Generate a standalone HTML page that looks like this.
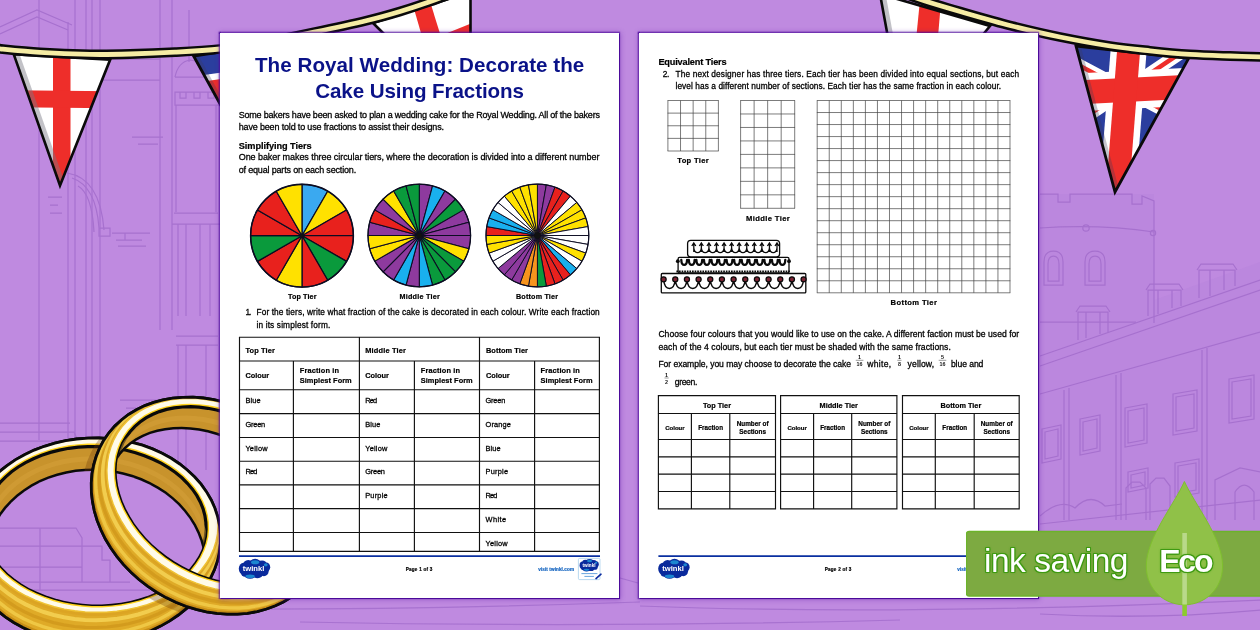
<!DOCTYPE html>
<html lang="en"><head><meta charset="utf-8"><title>The Royal Wedding: Decorate the Cake Using Fractions</title>
<style>
html,body{margin:0;padding:0;background:#bf8ae0;}
body{width:1260px;height:630px;overflow:hidden;font-family:"Liberation Sans",sans-serif;}
#stage{position:relative;width:1260px;height:630px;overflow:hidden;background:#bf8ae0;}
#stage>svg.art{position:absolute;left:0;top:0;}
.page{position:absolute;background:#fff;box-shadow:0 0 1.2px 1.3px #4b0a9a,0 0 5px 1.5px rgba(100,30,170,.45);}
.page>svg{position:absolute;left:0;top:0;}
.t{position:absolute;white-space:pre;line-height:1;color:#000;-webkit-text-stroke:0.28px #000;}
.b{font-weight:700;-webkit-text-stroke-width:0.2px;}
#eco{position:absolute;left:966px;top:470px;width:294px;height:160px;}
#eco svg{position:absolute;left:0;top:0;}
#eco .t{color:#fff;-webkit-text-stroke:0;text-shadow:1px 0 0 #3f9a12,-1px 0 0 #3f9a12,0 1px 0 #3f9a12,0 -1px 0 #3f9a12,1px 1px 0 #3f9a12,-1px -1px 0 #3f9a12,1px -1px 0 #3f9a12,-1px 1px 0 #3f9a12,0 0 3px #2f8f00;}
</style></head><body>
<div id="stage">
<svg class="art" width="1260" height="630" viewBox="0 0 1260 630"><path d="M1039 194H1154V300L1260 262V598H1039Z" fill="#b781dc" opacity=".4"/><g fill="none" stroke="#a36dcc" stroke-width="1.25" opacity=".85"><path d="M39 0V440M68 22V438M75 0V438M86 0V438M92 0V438M100 0V438M160 0V330M172 0V330M189 10V62"/><path d="M0 27L37 10L72 25M0 34L37 17L68 30"/><path d="M102 59H160M102 80H160"/><path d="M175 77Q178 62 190 60Q206 62 215 77M175 77H218M175 92H220V105H175ZM180 92V98H186V92M194 92V98H200V92M208 92V98H214V92M176 105V212M216 105V212"/><path d="M132 137H163M138 144H158M48 197H62M50 205H58M50 213H62M112 233H150M116 240H142M125 233V240M118 246H146"/><path d="M67 173Q100 178 104 230M72 178Q96 186 99 228M78 186Q92 194 94 232M99 228H110V236H99Z"/><path d="M174 213H218M172 224H220M178 224V316M186 224V316M200 224V316M210 224V316M176 336H218M176 345H218M178 345V470M186 345V470M206 345V470"/><path d="M0 423H70M0 432H74L78 441H0M120 400H160M126 408H150"/><path d="M0 528H76L82 538V546H0M0 567H82M0 582H82V546M82 546H102V560H110V582M82 582H130M0 590H150M40 528V590"/><path d="M620 578L638 583M0 606Q300 614 640 602M640 606Q900 616 1260 600M1040 614Q1150 620 1260 610M300 622Q600 628 900 620"/><path d="M1040 194H1058V202H1070V194H1132V204H1142V196L1154 201V323"/><path d="M1040 228Q1100 224 1154 232M1040 322H1136"/><circle cx="1086" cy="228" r="3.2"/><circle cx="1153" cy="233" r="2.6"/><path d="M1044 285V262Q1044 251 1053.5 251Q1063 251 1063 262V285ZM1048 281V264Q1048 256 1053.5 256Q1059 256 1059 264V281ZM1085 285V262Q1085 251 1095 251Q1105 251 1105 262V285ZM1089 281V264Q1089 256 1095 256Q1101 256 1101 264V281Z"/><path d="M1040 356L1260 280M1040 366L1260 290M1040 394L1260 332"/><path d="M1078 340V312H1108V332M1076 312L1080 306H1106L1110 312M1086 312V338M1100 312V334M1148 316V290H1181V306M1146 290L1150 284H1179L1183 290M1158 290V314M1172 290V308M1199 298V270H1235V286M1197 270L1201 264H1233L1237 270M1210 270V296M1224 270V290"/><path d="M1064 390V520M1069 388V520M1116 375V520M1121 373V520M1202 350V520M1207 348V520"/><path d="M1042 429L1061 425V459L1042 463ZM1045 432L1058 429V456L1045 459Z"/><path d="M1080 419L1100 415V451L1080 455ZM1083 422L1097 419V448L1083 451Z"/><path d="M1125 408L1147 404V443L1125 447ZM1128 411L1144 408V440L1128 443Z"/><path d="M1173 394L1197 390V431L1173 435ZM1176 397L1194 394V428L1176 431Z"/><path d="M1229 379L1254 375V419L1229 423ZM1232 382L1251 379V416L1232 419Z"/><path d="M1128 472L1148 468V488L1128 492ZM1131 475L1145 472V485L1131 488Z"/><path d="M1175 463L1199 459V493L1175 497ZM1178 466L1196 463V490L1178 493Z"/><path d="M1040 516Q1060 498 1075 508Q1090 492 1105 506L1122 504M1126 520V488L1132 482H1140L1146 488V520M1150 520V484L1156 478H1164L1170 486V520M1215 520V480L1240 468L1260 472M1235 520V492Q1244 478 1254 492V520"/><path d="M1040 524L1260 500"/></g><clipPath id="cUJ1"><polygon points="193.6,56 300,40 262,180"/></clipPath><polygon points="193.6,56 300,40 262,180" fill="#2b3e9e"/><g clip-path="url(#cUJ1)"><g transform="translate(252 85.5) scale(0.9)"><g transform="rotate(-8)"><path d="M-90 0H90" stroke="#fff" stroke-width="38"/></g><path d="M0 -60V140" stroke="#fff" stroke-width="36" transform="rotate(-2)"/><path d="M-90 0H90" stroke="#ee2e2a" stroke-width="24" transform="rotate(-8)"/><path d="M0 -60V140" stroke="#ee2e2a" stroke-width="23" transform="rotate(-2)"/></g><path d="M193.6 56L262 180" stroke="rgba(60,60,90,.30)" stroke-width="9"/></g><polygon points="193.6,56 300,40 262,180" fill="none" stroke="#0a0a0a" stroke-width="2.8" stroke-linejoin="miter"/><clipPath id="cE1"><polygon points="13.7,54.2 110.2,59.6 60,185.5"/></clipPath><polygon points="13.7,54.2 110.2,59.6 60,185.5" fill="#fff"/><g clip-path="url(#cE1)"><polygon points="53,40 70.5,40 70.5,190 53,190" fill="#ee2e2a"/><polygon points="0,90 130,91.5 130,108.5 0,107" fill="#ee2e2a"/><path d="M13.7 54.2L60 185.5" stroke="rgba(120,120,130,.45)" stroke-width="11"/></g><polygon points="13.7,54.2 110.2,59.6 60,185.5" fill="none" stroke="#0a0a0a" stroke-width="2.6" stroke-linejoin="miter"/><clipPath id="cE2"><polygon points="373,23 470.5,-8 470.5,120"/></clipPath><polygon points="373,23 470.5,-8 470.5,120" fill="#fff"/><g clip-path="url(#cE2)"><polygon points="410,-5 428,-5 442,40 423,40" fill="#ee2e2a"/><polygon points="440,36 480,20 480,34 448,40" fill="#ee2e2a"/></g><polygon points="373,23 470.5,-8 470.5,120" fill="none" stroke="#0a0a0a" stroke-width="2.6" stroke-linejoin="miter"/><path d="M-6 48.2C1.7 48.9 24.0 51.4 40.0 52.4C56.0 53.4 75.0 54.1 90.0 54.4C105.0 54.7 115.8 54.4 130.0 54.0C144.2 53.6 160.0 53.0 175.0 52.2C190.0 51.4 205.5 50.6 220.0 49.0C234.5 47.4 246.3 45.3 262.0 42.5C277.7 39.7 296.5 35.9 314.0 32.2C331.5 28.5 352.7 23.9 367.0 20.5C381.3 17.1 389.7 14.6 400.0 11.5C410.3 8.4 421.0 4.8 429.0 2.0C437.0 -0.8 444.8 -3.8 448.0 -5.0" fill="none" stroke="#0a0a0a" stroke-width="9.8" stroke-linecap="butt"/><path d="M-6 48.2C1.7 48.9 24.0 51.4 40.0 52.4C56.0 53.4 75.0 54.1 90.0 54.4C105.0 54.7 115.8 54.4 130.0 54.0C144.2 53.6 160.0 53.0 175.0 52.2C190.0 51.4 205.5 50.6 220.0 49.0C234.5 47.4 246.3 45.3 262.0 42.5C277.7 39.7 296.5 35.9 314.0 32.2C331.5 28.5 352.7 23.9 367.0 20.5C381.3 17.1 389.7 14.6 400.0 11.5C410.3 8.4 421.0 4.8 429.0 2.0C437.0 -0.8 444.8 -3.8 448.0 -5.0" fill="none" stroke="#f5eca4" stroke-width="4.8" stroke-linecap="butt"/><clipPath id="cE3"><polygon points="880,-6 990,26 905,130"/></clipPath><polygon points="880,-6 990,26 905,130" fill="#fff"/><g clip-path="url(#cE3)"><polygon points="921,-10 942,-10 936,60 914,60" fill="#ee2e2a"/><polygon points="870,60 990,60 990,80 870,80" fill="#ee2e2a"/><path d="M880 -6L905 130" stroke="rgba(120,120,130,.45)" stroke-width="11"/></g><polygon points="880,-6 990,26 905,130" fill="none" stroke="#0a0a0a" stroke-width="2.6" stroke-linejoin="miter"/><clipPath id="cUJ2"><polygon points="1076,46 1188.6,58.4 1115,192"/></clipPath><polygon points="1076,46 1188.6,58.4 1115,192" fill="#2b3e9e"/><g clip-path="url(#cUJ2)"><g transform="translate(1125.5 90) scale(1.0)"><g transform="rotate(-3)"><path d="M-80 -48L80 48M-80 48L80 -48" stroke="#fff" stroke-width="13"/><path d="M-80 -48L80 48M-80 48L80 -48" stroke="#ee2e2a" stroke-width="4.5"/><path d="M-90 0H90" stroke="#fff" stroke-width="38"/></g><path d="M0 -60V140" stroke="#fff" stroke-width="36" transform="rotate(4.5)"/><path d="M-90 0H90" stroke="#ee2e2a" stroke-width="24" transform="rotate(-3)"/><path d="M0 -60V140" stroke="#ee2e2a" stroke-width="23" transform="rotate(4.5)"/></g><path d="M1076 46L1115 192" stroke="rgba(60,60,90,.30)" stroke-width="9"/></g><polygon points="1076,46 1188.6,58.4 1115,192" fill="none" stroke="#0a0a0a" stroke-width="2.8" stroke-linejoin="miter"/><path d="M900 -8C904.2 -6.5 915.0 -2.2 925.0 1.0C935.0 4.2 945.5 7.3 960.0 11.5C974.5 15.7 995.3 21.8 1012.0 26.0C1028.7 30.2 1043.7 33.7 1060.0 37.0C1076.3 40.3 1095.0 43.7 1110.0 46.0C1125.0 48.3 1136.7 49.4 1150.0 50.8C1163.3 52.2 1176.7 53.5 1190.0 54.4C1203.3 55.3 1217.3 55.6 1230.0 56.0C1242.7 56.4 1260.0 56.8 1266.0 57.0" fill="none" stroke="#0a0a0a" stroke-width="9.8" stroke-linecap="butt"/><path d="M900 -8C904.2 -6.5 915.0 -2.2 925.0 1.0C935.0 4.2 945.5 7.3 960.0 11.5C974.5 15.7 995.3 21.8 1012.0 26.0C1028.7 30.2 1043.7 33.7 1060.0 37.0C1076.3 40.3 1095.0 43.7 1110.0 46.0C1125.0 48.3 1136.7 49.4 1150.0 50.8C1163.3 52.2 1176.7 53.5 1190.0 54.4C1203.3 55.3 1217.3 55.6 1230.0 56.0C1242.7 56.4 1260.0 56.8 1266.0 57.0" fill="none" stroke="#f5eca4" stroke-width="4.8" stroke-linecap="butt"/><defs><clipPath id="rAri"><path d="M206.1 529.4L205.5 536.2L204.0 543.0L201.6 549.7L198.5 556.1L194.5 562.3L189.9 568.3L184.4 573.9L178.3 579.2L171.6 584.0L164.3 588.4L156.4 592.3L148.1 595.7L139.4 598.6L130.4 600.9L121.0 602.7L111.5 603.8L101.9 604.4L92.1 604.4L82.5 603.7L72.9 602.5L63.5 600.7L54.3 598.3L45.4 595.3L36.9 591.8L28.8 587.9L21.3 583.4L14.3 578.5L7.9 573.2L2.2 567.5L-2.8 561.6L-7.1 555.3L-10.6 548.8L-13.3 542.2L-15.1 535.4L-16.1 528.5L-16.3 521.6L-15.7 514.8L-14.2 508.0L-11.8 501.3L-8.7 494.9L-4.7 488.7L-0.1 482.7L5.4 477.1L11.5 471.8L18.2 467.0L25.5 462.6L33.4 458.7L41.7 455.3L50.4 452.4L59.4 450.1L68.8 448.3L78.3 447.2L87.9 446.6L97.7 446.6L107.3 447.3L116.9 448.5L126.3 450.3L135.5 452.7L144.4 455.7L152.9 459.2L161.0 463.1L168.5 467.6L175.5 472.5L181.9 477.8L187.6 483.5L192.6 489.4L196.9 495.7L200.4 502.2L203.1 508.8L204.9 515.6L205.9 522.5Z"/></clipPath><clipPath id="rAsil"><path d="M220.5 534.6L220.4 543.5L219.3 552.4L217.3 561.3L214.3 569.9L210.4 578.4L205.6 586.5L200.0 594.3L193.5 601.7L186.3 608.6L178.3 615.0L169.7 620.9L160.5 626.1L150.8 630.7L140.6 634.5L130.1 637.7L119.3 640.1L108.3 641.8L97.1 642.7L86.0 642.8L74.9 642.1L63.9 640.7L53.1 638.5L42.6 635.6L32.5 631.9L22.9 627.5L13.8 622.5L5.3 616.8L-2.5 610.6L-9.7 603.8L-16.0 596.6L-21.5 588.9L-26.2 580.8L-29.9 572.5L-32.7 563.9L-34.6 555.1L-35.5 546.2L-35.4 537.3L-34.3 528.4L-32.3 519.5L-29.3 510.9L-25.4 502.4L-20.6 494.3L-15.0 486.5L-8.5 479.1L-1.3 472.2L6.7 465.8L15.3 459.9L24.5 454.7L34.2 450.1L44.4 446.3L54.9 443.1L65.7 440.7L76.7 439.0L87.9 438.1L99.0 438.0L110.1 438.7L121.1 440.1L131.9 442.3L142.4 445.2L152.5 448.9L162.1 453.3L171.2 458.3L179.7 464.0L187.5 470.2L194.7 477.0L201.0 484.2L206.5 491.9L211.2 500.0L214.9 508.3L217.7 516.9L219.6 525.7Z"/></clipPath><mask id="rAm" maskUnits="userSpaceOnUse" x="-200" y="300" width="700" height="500"><rect x="-200" y="300" width="700" height="500" fill="#fff"/><g clip-path="url(#rAri)"><path d="M204.1 572.2L202.9 580.0L201.0 587.8L198.2 595.3L194.7 602.6L190.4 609.6L185.4 616.2L179.7 622.4L173.4 628.2L166.5 633.4L159.1 638.1L151.1 642.3L142.8 645.8L134.1 648.7L125.1 650.9L115.8 652.5L106.5 653.4L97.0 653.5L87.5 653.0L78.1 651.8L68.9 649.9L59.8 647.4L51.0 644.2L42.6 640.4L34.5 635.9L26.9 631.0L19.9 625.5L13.4 619.5L7.6 613.1L2.4 606.3L-2.1 599.1L-5.8 591.7L-8.7 584.1L-10.9 576.3L-12.2 568.4L-12.8 560.4L-12.5 552.4L-11.3 544.6L-9.4 536.8L-6.6 529.3L-3.1 522.0L1.2 515.0L6.2 508.4L11.9 502.2L18.2 496.4L25.1 491.2L32.5 486.5L40.5 482.3L48.8 478.8L57.5 475.9L66.5 473.7L75.8 472.1L85.1 471.2L94.6 471.1L104.1 471.6L113.5 472.8L122.7 474.7L131.8 477.2L140.6 480.4L149.0 484.2L157.1 488.7L164.7 493.6L171.7 499.1L178.2 505.1L184.0 511.5L189.2 518.3L193.7 525.5L197.4 532.9L200.3 540.5L202.5 548.3L203.8 556.2L204.4 564.2Z" fill="#000"/></g></mask></defs><g mask="url(#rAm)"><path d="M220.5 534.6L220.4 543.5L219.3 552.4L217.3 561.3L214.3 569.9L210.4 578.4L205.6 586.5L200.0 594.3L193.5 601.7L186.3 608.6L178.3 615.0L169.7 620.9L160.5 626.1L150.8 630.7L140.6 634.5L130.1 637.7L119.3 640.1L108.3 641.8L97.1 642.7L86.0 642.8L74.9 642.1L63.9 640.7L53.1 638.5L42.6 635.6L32.5 631.9L22.9 627.5L13.8 622.5L5.3 616.8L-2.5 610.6L-9.7 603.8L-16.0 596.6L-21.5 588.9L-26.2 580.8L-29.9 572.5L-32.7 563.9L-34.6 555.1L-35.5 546.2L-35.4 537.3L-34.3 528.4L-32.3 519.5L-29.3 510.9L-25.4 502.4L-20.6 494.3L-15.0 486.5L-8.5 479.1L-1.3 472.2L6.7 465.8L15.3 459.9L24.5 454.7L34.2 450.1L44.4 446.3L54.9 443.1L65.7 440.7L76.7 439.0L87.9 438.1L99.0 438.0L110.1 438.7L121.1 440.1L131.9 442.3L142.4 445.2L152.5 448.9L162.1 453.3L171.2 458.3L179.7 464.0L187.5 470.2L194.7 477.0L201.0 484.2L206.5 491.9L211.2 500.0L214.9 508.3L217.7 516.9L219.6 525.7Z" fill="#dfaa27" stroke="#0a0a0a" stroke-width="2.8"/><g clip-path="url(#rAsil)"><path d="M220.3 534.0L220.2 542.9L219.1 551.7L217.1 560.4L214.1 569.0L210.1 577.3L205.3 585.4L199.7 593.1L193.2 600.3L185.9 607.2L178.0 613.5L169.4 619.2L160.2 624.4L150.5 628.8L140.4 632.7L129.9 635.8L119.1 638.1L108.1 639.7L97.0 640.6L85.9 640.7L74.8 640.0L63.8 638.5L53.1 636.3L42.7 633.3L32.7 629.7L23.1 625.3L14.0 620.3L5.6 614.7L-2.2 608.5L-9.3 601.8L-15.6 594.6L-21.0 586.9L-25.6 579.0L-29.3 570.7L-32.1 562.1L-33.9 553.5L-34.7 544.7L-34.6 535.8L-33.5 527.0L-31.5 518.3L-28.5 509.7L-24.6 501.4L-19.8 493.3L-14.1 485.6L-7.6 478.3L-0.4 471.5L7.6 465.2L16.2 459.5L25.4 454.3L35.1 449.8L45.2 446.0L55.7 442.9L66.5 440.6L77.5 439.0L88.6 438.1L99.7 438.0L110.8 438.7L121.7 440.2L132.4 442.4L142.9 445.4L152.9 449.0L162.5 453.4L171.5 458.4L180.0 464.0L187.8 470.2L194.8 476.9L201.1 484.1L206.6 491.7L211.2 499.7L214.9 508.0L217.6 516.5L219.5 525.2Z" fill="none" stroke="#c58b16" stroke-width="3.0" opacity="0.9"/><path d="M219.8 532.4L219.6 540.9L218.4 549.4L216.3 557.9L213.2 566.1L209.2 574.1L204.4 581.9L198.7 589.3L192.2 596.3L184.9 602.8L177.0 608.8L168.4 614.3L159.3 619.2L149.6 623.4L139.6 627.0L129.1 629.9L118.5 632.1L107.6 633.5L96.6 634.2L85.6 634.2L74.6 633.4L63.8 631.9L53.2 629.6L43.0 626.6L33.1 623.0L23.7 618.7L14.8 613.7L6.5 608.2L-1.1 602.1L-8.1 595.5L-14.2 588.5L-19.5 581.1L-23.9 573.3L-27.5 565.2L-30.1 557.0L-31.8 548.5L-32.6 540.0L-32.4 531.4L-31.2 522.9L-29.0 514.5L-26.0 506.2L-22.0 498.2L-17.1 490.5L-11.5 483.1L-5.0 476.1L2.3 469.5L10.2 463.5L18.8 458.0L28.0 453.2L37.6 448.9L47.7 445.3L58.1 442.5L68.8 440.3L79.7 438.8L90.7 438.1L101.7 438.2L112.6 439.0L123.4 440.5L134.0 442.7L144.3 445.7L154.1 449.4L163.6 453.7L172.5 458.6L180.8 464.1L188.4 470.2L195.3 476.8L201.4 483.8L206.7 491.3L211.2 499.1L214.7 507.1L217.4 515.4L219.1 523.8Z" fill="none" stroke="#efc846" stroke-width="3.4" opacity="0.95"/><path d="M219.3 530.6L219.0 538.8L217.7 547.0L215.5 555.1L212.3 563.1L208.3 570.8L203.4 578.2L197.7 585.3L191.2 592.0L184.0 598.2L176.0 603.9L167.5 609.1L158.4 613.7L148.8 617.7L138.8 621.0L128.5 623.7L117.9 625.7L107.1 627.0L96.2 627.5L85.4 627.4L74.5 626.5L63.9 624.9L53.5 622.6L43.3 619.6L33.6 616.0L24.4 611.7L15.6 606.9L7.5 601.4L0.0 595.5L-6.7 589.0L-12.7 582.2L-17.9 574.9L-22.2 567.4L-25.6 559.6L-28.1 551.5L-29.7 543.4L-30.3 535.1L-30.0 526.9L-28.7 518.7L-26.5 510.6L-23.3 502.6L-19.3 494.9L-14.4 487.5L-8.7 480.4L-2.2 473.7L5.0 467.5L13.0 461.8L21.5 456.6L30.6 452.0L40.2 448.0L50.2 444.7L60.5 442.0L71.1 440.0L81.9 438.7L92.8 438.2L103.6 438.3L114.5 439.2L125.1 440.8L135.5 443.1L145.7 446.1L155.4 449.7L164.6 454.0L173.4 458.8L181.5 464.3L189.0 470.2L195.7 476.7L201.7 483.5L206.9 490.8L211.2 498.3L214.6 506.1L217.1 514.2L218.7 522.3Z" fill="none" stroke="#cf971c" stroke-width="3.2" opacity="0.8"/><path d="M218.7 528.6L218.2 536.5L216.9 544.4L214.6 552.1L211.4 559.7L207.3 567.1L202.4 574.2L196.7 580.9L190.2 587.2L182.9 593.1L175.0 598.5L166.5 603.4L157.5 607.7L148.0 611.4L138.1 614.5L127.8 617.0L117.3 618.7L106.7 619.8L95.9 620.2L85.2 619.9L74.5 619.0L64.0 617.3L53.8 615.0L43.8 612.0L34.3 608.4L25.2 604.1L16.6 599.4L8.7 594.0L1.4 588.2L-5.2 582.0L-11.0 575.3L-16.0 568.3L-20.2 561.0L-23.4 553.4L-25.8 545.7L-27.2 537.8L-27.8 529.9L-27.3 522.0L-26.0 514.1L-23.7 506.3L-20.5 498.7L-16.4 491.4L-11.5 484.3L-5.7 477.6L0.8 471.2L8.0 465.3L15.9 459.9L24.4 455.1L33.4 450.7L42.9 447.0L52.9 443.9L63.1 441.5L73.6 439.7L84.2 438.6L95.0 438.2L105.7 438.5L116.4 439.5L126.9 441.2L137.1 443.5L147.1 446.5L156.6 450.1L165.7 454.3L174.3 459.1L182.2 464.4L189.5 470.2L196.1 476.5L201.9 483.2L206.9 490.2L211.1 497.5L214.4 505.0L216.7 512.8L218.2 520.6Z" fill="none" stroke="#f2cf50" stroke-width="4.0" opacity="0.95"/><path d="M218.2 527.0L217.7 534.7L216.3 542.4L213.9 549.9L210.7 557.2L206.6 564.3L201.7 571.1L195.9 577.6L189.4 583.6L182.2 589.3L174.3 594.4L165.9 599.1L156.9 603.2L147.4 606.7L137.6 609.6L127.4 611.9L117.0 613.5L106.4 614.5L95.8 614.7L85.2 614.4L74.6 613.3L64.2 611.6L54.1 609.2L44.3 606.2L34.8 602.7L25.9 598.5L17.4 593.8L9.6 588.5L2.5 582.8L-4.0 576.7L-9.7 570.2L-14.6 563.3L-18.6 556.2L-21.8 548.8L-24.1 541.3L-25.4 533.7L-25.8 526.0L-25.3 518.3L-23.9 510.7L-21.6 503.2L-18.4 495.8L-14.2 488.7L-9.3 481.9L-3.6 475.5L3.0 469.4L10.2 463.7L18.0 458.6L26.5 453.9L35.5 449.8L45.0 446.3L54.8 443.4L65.0 441.1L75.4 439.5L85.9 438.6L96.6 438.3L107.2 438.7L117.8 439.7L128.1 441.4L138.3 443.8L148.1 446.8L157.5 450.4L166.5 454.5L174.9 459.3L182.7 464.5L189.9 470.2L196.4 476.3L202.1 482.9L206.9 489.7L211.0 496.8L214.1 504.2L216.4 511.7L217.8 519.4Z" fill="none" stroke="#dba323" stroke-width="2.5" opacity="0.8"/></g><g clip-path="url(#rAsil)"><path d="M218.0 526.4L217.5 533.9L216.0 541.5L213.7 548.8L210.4 556.1L206.3 563.0L201.3 569.7L195.6 576.1L189.1 582.0L181.9 587.6L174.0 592.6L165.6 597.2L156.6 601.2L147.2 604.6L137.3 607.4L127.2 609.6L116.8 611.2L106.3 612.1L95.7 612.3L85.2 611.9L74.7 610.8L64.3 609.1L54.2 606.7L44.5 603.7L35.1 600.1L26.2 596.0L17.8 591.3L10.1 586.1L2.9 580.4L-3.5 574.3L-9.1 567.9L-13.9 561.1L-17.9 554.1L-21.1 546.8L-23.3 539.4L-24.6 531.8L-25.0 524.2L-24.5 516.7L-23.0 509.1L-20.7 501.8L-17.4 494.5L-13.3 487.6L-8.3 480.9L-2.6 474.5L3.9 468.6L11.1 463.0L19.0 458.0L27.4 453.4L36.4 449.4L45.8 446.0L55.7 443.2L65.8 441.0L76.2 439.4L86.7 438.5L97.3 438.3L107.8 438.7L118.3 439.8L128.7 441.5L138.8 443.9L148.5 446.9L157.9 450.5L166.8 454.6L175.2 459.3L182.9 464.5L190.1 470.2L196.5 476.3L202.1 482.7L206.9 489.5L210.9 496.5L214.1 503.8L216.3 511.2L217.6 518.8Z" fill="#fffbe8" stroke="#efc233" stroke-width="1.4"/></g><path d="M206.1 529.4L205.5 536.2L204.0 543.0L201.6 549.7L198.5 556.1L194.5 562.3L189.9 568.3L184.4 573.9L178.3 579.2L171.6 584.0L164.3 588.4L156.4 592.3L148.1 595.7L139.4 598.6L130.4 600.9L121.0 602.7L111.5 603.8L101.9 604.4L92.1 604.4L82.5 603.7L72.9 602.5L63.5 600.7L54.3 598.3L45.4 595.3L36.9 591.8L28.8 587.9L21.3 583.4L14.3 578.5L7.9 573.2L2.2 567.5L-2.8 561.6L-7.1 555.3L-10.6 548.8L-13.3 542.2L-15.1 535.4L-16.1 528.5L-16.3 521.6L-15.7 514.8L-14.2 508.0L-11.8 501.3L-8.7 494.9L-4.7 488.7L-0.1 482.7L5.4 477.1L11.5 471.8L18.2 467.0L25.5 462.6L33.4 458.7L41.7 455.3L50.4 452.4L59.4 450.1L68.8 448.3L78.3 447.2L87.9 446.6L97.7 446.6L107.3 447.3L116.9 448.5L126.3 450.3L135.5 452.7L144.4 455.7L152.9 459.2L161.0 463.1L168.5 467.6L175.5 472.5L181.9 477.8L187.6 483.5L192.6 489.4L196.9 495.7L200.4 502.2L203.1 508.8L204.9 515.6L205.9 522.5Z" fill="#c8932c" stroke="#ffd21a" stroke-width="6.0"/><path d="M206.1 529.4L205.5 536.2L204.0 543.0L201.6 549.7L198.5 556.1L194.5 562.3L189.9 568.3L184.4 573.9L178.3 579.2L171.6 584.0L164.3 588.4L156.4 592.3L148.1 595.7L139.4 598.6L130.4 600.9L121.0 602.7L111.5 603.8L101.9 604.4L92.1 604.4L82.5 603.7L72.9 602.5L63.5 600.7L54.3 598.3L45.4 595.3L36.9 591.8L28.8 587.9L21.3 583.4L14.3 578.5L7.9 573.2L2.2 567.5L-2.8 561.6L-7.1 555.3L-10.6 548.8L-13.3 542.2L-15.1 535.4L-16.1 528.5L-16.3 521.6L-15.7 514.8L-14.2 508.0L-11.8 501.3L-8.7 494.9L-4.7 488.7L-0.1 482.7L5.4 477.1L11.5 471.8L18.2 467.0L25.5 462.6L33.4 458.7L41.7 455.3L50.4 452.4L59.4 450.1L68.8 448.3L78.3 447.2L87.9 446.6L97.7 446.6L107.3 447.3L116.9 448.5L126.3 450.3L135.5 452.7L144.4 455.7L152.9 459.2L161.0 463.1L168.5 467.6L175.5 472.5L181.9 477.8L187.6 483.5L192.6 489.4L196.9 495.7L200.4 502.2L203.1 508.8L204.9 515.6L205.9 522.5Z" fill="#c8932c" stroke="#0a0a0a" stroke-width="3.2"/><g clip-path="url(#rAri)"><path d="M205.1 550.8L204.3 558.2L202.5 565.4L200.0 572.5L196.7 579.4L192.6 586.0L187.8 592.3L182.2 598.2L176.0 603.7L169.2 608.8L161.8 613.3L153.9 617.4L145.6 620.8L136.9 623.7L127.9 626.0L118.6 627.6L109.2 628.6L99.6 629.0L90.0 628.7L80.5 627.8L71.0 626.2L61.8 624.1L52.8 621.3L44.1 617.9L35.8 613.9L28.0 609.4L20.7 604.4L13.9 599.0L7.8 593.1L2.4 586.9L-2.4 580.3L-6.4 573.5L-9.6 566.4L-12.1 559.2L-13.7 551.8L-14.5 544.4L-14.4 537.0L-13.6 529.6L-11.8 522.4L-9.3 515.3L-6.0 508.4L-1.9 501.8L2.9 495.5L8.5 489.6L14.7 484.1L21.5 479.0L28.9 474.5L36.8 470.4L45.1 467.0L53.8 464.1L62.8 461.8L72.1 460.2L81.5 459.2L91.1 458.8L100.7 459.1L110.2 460.0L119.7 461.6L128.9 463.7L137.9 466.5L146.6 469.9L154.9 473.9L162.7 478.4L170.0 483.4L176.8 488.8L182.9 494.7L188.3 500.9L193.1 507.5L197.1 514.3L200.3 521.4L202.8 528.6L204.4 536.0L205.2 543.4Z" fill="none" stroke="#d6a23a" stroke-width="5" opacity=".5"/><path d="M204.1 572.2L202.9 580.0L201.0 587.8L198.2 595.3L194.7 602.6L190.4 609.6L185.4 616.2L179.7 622.4L173.4 628.2L166.5 633.4L159.1 638.1L151.1 642.3L142.8 645.8L134.1 648.7L125.1 650.9L115.8 652.5L106.5 653.4L97.0 653.5L87.5 653.0L78.1 651.8L68.9 649.9L59.8 647.4L51.0 644.2L42.6 640.4L34.5 635.9L26.9 631.0L19.9 625.5L13.4 619.5L7.6 613.1L2.4 606.3L-2.1 599.1L-5.8 591.7L-8.7 584.1L-10.9 576.3L-12.2 568.4L-12.8 560.4L-12.5 552.4L-11.3 544.6L-9.4 536.8L-6.6 529.3L-3.1 522.0L1.2 515.0L6.2 508.4L11.9 502.2L18.2 496.4L25.1 491.2L32.5 486.5L40.5 482.3L48.8 478.8L57.5 475.9L66.5 473.7L75.8 472.1L85.1 471.2L94.6 471.1L104.1 471.6L113.5 472.8L122.7 474.7L131.8 477.2L140.6 480.4L149.0 484.2L157.1 488.7L164.7 493.6L171.7 499.1L178.2 505.1L184.0 511.5L189.2 518.3L193.7 525.5L197.4 532.9L200.3 540.5L202.5 548.3L203.8 556.2L204.4 564.2Z" fill="none" stroke="#0a0a0a" stroke-width="5.0"/></g><g clip-path="url(#rAsil)"><path d="M307.3 576.3L302.2 583.6L296.4 590.3L289.8 596.4L282.6 601.9L274.7 606.7L266.3 610.8L257.4 614.0L248.1 616.6L238.4 618.3L228.4 619.1L218.2 619.2L207.9 618.4L197.5 616.8L187.2 614.4L177.0 611.3L166.9 607.3L157.1 602.6L147.7 597.2L138.6 591.2L130.0 584.5L122.0 577.3L114.6 569.6L107.8 561.4L101.7 552.8L96.4 544.0L91.9 534.8L88.2 525.5L85.4 516.1L83.5 506.6L82.4 497.2L82.3 487.8L83.0 478.7L84.7 469.8L87.3 461.1L90.7 452.9L94.9 445.1L100.0 437.8L105.8 431.1L112.4 425.0L119.6 419.5L127.5 414.7L135.9 410.6L144.8 407.4L154.1 404.8L163.8 403.1L173.8 402.3L184.0 402.2L194.3 403.0L204.7 404.6L215.0 407.0L225.2 410.1L235.3 414.1L245.1 418.8L254.5 424.2L263.6 430.2L272.2 436.9L280.2 444.1L287.6 451.8L294.4 460.0L300.5 468.6L305.8 477.4L310.3 486.6L314.0 495.9L316.8 505.3L318.7 514.8L319.8 524.2L319.9 533.6L319.2 542.7L317.5 551.6L314.9 560.3L311.5 568.5ZM316.3 571.3L311.2 578.6L305.4 585.3L298.8 591.4L291.6 596.9L283.7 601.7L275.3 605.8L266.4 609.0L257.1 611.6L247.4 613.3L237.4 614.1L227.2 614.2L216.9 613.4L206.5 611.8L196.2 609.4L186.0 606.3L175.9 602.3L166.1 597.6L156.7 592.2L147.6 586.2L139.0 579.5L131.0 572.3L123.6 564.6L116.8 556.4L110.7 547.8L105.4 539.0L100.9 529.8L97.2 520.5L94.4 511.1L92.5 501.6L91.4 492.2L91.3 482.8L92.0 473.7L93.7 464.8L96.3 456.1L99.7 447.9L103.9 440.1L109.0 432.8L114.8 426.1L121.4 420.0L128.6 414.5L136.5 409.7L144.9 405.6L153.8 402.4L163.1 399.8L172.8 398.1L182.8 397.3L193.0 397.2L203.3 398.0L213.7 399.6L224.0 402.0L234.2 405.1L244.3 409.1L254.1 413.8L263.5 419.2L272.6 425.2L281.2 431.9L289.2 439.1L296.6 446.8L303.4 455.0L309.5 463.6L314.8 472.4L319.3 481.6L323.0 490.9L325.8 500.3L327.7 509.8L328.8 519.2L328.9 528.6L328.2 537.7L326.5 546.6L323.9 555.3L320.5 563.5Z" fill-rule="evenodd" fill="rgba(110,60,10,.32)"/></g><path d="M220.5 534.6L220.4 543.5L219.3 552.4L217.3 561.3L214.3 569.9L210.4 578.4L205.6 586.5L200.0 594.3L193.5 601.7L186.3 608.6L178.3 615.0L169.7 620.9L160.5 626.1L150.8 630.7L140.6 634.5L130.1 637.7L119.3 640.1L108.3 641.8L97.1 642.7L86.0 642.8L74.9 642.1L63.9 640.7L53.1 638.5L42.6 635.6L32.5 631.9L22.9 627.5L13.8 622.5L5.3 616.8L-2.5 610.6L-9.7 603.8L-16.0 596.6L-21.5 588.9L-26.2 580.8L-29.9 572.5L-32.7 563.9L-34.6 555.1L-35.5 546.2L-35.4 537.3L-34.3 528.4L-32.3 519.5L-29.3 510.9L-25.4 502.4L-20.6 494.3L-15.0 486.5L-8.5 479.1L-1.3 472.2L6.7 465.8L15.3 459.9L24.5 454.7L34.2 450.1L44.4 446.3L54.9 443.1L65.7 440.7L76.7 439.0L87.9 438.1L99.0 438.0L110.1 438.7L121.1 440.1L131.9 442.3L142.4 445.2L152.5 448.9L162.1 453.3L171.2 458.3L179.7 464.0L187.5 470.2L194.7 477.0L201.0 484.2L206.5 491.9L211.2 500.0L214.9 508.3L217.7 516.9L219.6 525.7Z" fill="none" stroke="#0a0a0a" stroke-width="2.8"/></g><defs><clipPath id="rBri"><path d="M307.0 552.1L303.0 557.7L298.3 562.8L293.0 567.4L287.1 571.5L280.7 574.9L273.7 577.8L266.4 580.0L258.7 581.5L250.6 582.4L242.3 582.7L233.8 582.2L225.1 581.1L216.4 579.4L207.7 576.9L199.1 573.9L190.6 570.3L182.3 566.1L174.2 561.3L166.5 556.1L159.1 550.3L152.2 544.2L145.8 537.7L139.9 530.8L134.6 523.7L130.0 516.3L125.9 508.8L122.6 501.2L120.0 493.5L118.1 485.9L117.0 478.3L116.6 470.8L117.0 463.5L118.1 456.5L120.0 449.7L122.6 443.3L126.0 437.3L130.0 431.7L134.7 426.6L140.0 422.0L145.9 417.9L152.3 414.5L159.3 411.6L166.6 409.4L174.3 407.9L182.4 407.0L190.7 406.7L199.2 407.2L207.9 408.3L216.6 410.0L225.3 412.5L233.9 415.5L242.4 419.1L250.7 423.3L258.8 428.1L266.5 433.3L273.9 439.1L280.8 445.2L287.2 451.7L293.1 458.6L298.4 465.7L303.0 473.1L307.1 480.6L310.4 488.2L313.0 495.9L314.9 503.5L316.0 511.1L316.4 518.6L316.0 525.9L314.9 532.9L313.0 539.7L310.4 546.1Z"/></clipPath><clipPath id="rBsil"><path d="M316.3 571.3L311.2 578.6L305.4 585.3L298.8 591.4L291.6 596.9L283.7 601.7L275.3 605.8L266.4 609.0L257.1 611.6L247.4 613.3L237.4 614.1L227.2 614.2L216.9 613.4L206.5 611.8L196.2 609.4L186.0 606.3L175.9 602.3L166.1 597.6L156.7 592.2L147.6 586.2L139.0 579.5L131.0 572.3L123.6 564.6L116.8 556.4L110.7 547.8L105.4 539.0L100.9 529.8L97.2 520.5L94.4 511.1L92.5 501.6L91.4 492.2L91.3 482.8L92.0 473.7L93.7 464.8L96.3 456.1L99.7 447.9L103.9 440.1L109.0 432.8L114.8 426.1L121.4 420.0L128.6 414.5L136.5 409.7L144.9 405.6L153.8 402.4L163.1 399.8L172.8 398.1L182.8 397.3L193.0 397.2L203.3 398.0L213.7 399.6L224.0 402.0L234.2 405.1L244.3 409.1L254.1 413.8L263.5 419.2L272.6 425.2L281.2 431.9L289.2 439.1L296.6 446.8L303.4 455.0L309.5 463.6L314.8 472.4L319.3 481.6L323.0 490.9L325.8 500.3L327.7 509.8L328.8 519.2L328.9 528.6L328.2 537.7L326.5 546.6L323.9 555.3L320.5 563.5Z"/></clipPath><mask id="rBm" maskUnits="userSpaceOnUse" x="-200" y="300" width="700" height="500"><rect x="-200" y="300" width="700" height="500" fill="#fff"/><g clip-path="url(#rBri)"><path d="M298.0 574.6L294.0 580.2L289.3 585.3L284.0 589.9L278.1 594.0L271.7 597.4L264.7 600.3L257.4 602.5L249.7 604.0L241.6 604.9L233.3 605.2L224.8 604.7L216.1 603.6L207.4 601.9L198.7 599.4L190.1 596.4L181.6 592.8L173.3 588.6L165.2 583.8L157.5 578.6L150.1 572.8L143.2 566.7L136.8 560.2L130.9 553.3L125.6 546.2L121.0 538.8L116.9 531.3L113.6 523.7L111.0 516.0L109.1 508.4L108.0 500.8L107.6 493.3L108.0 486.0L109.1 479.0L111.0 472.2L113.6 465.8L117.0 459.8L121.0 454.2L125.7 449.1L131.0 444.5L136.9 440.4L143.3 437.0L150.3 434.1L157.6 431.9L165.3 430.4L173.4 429.5L181.7 429.2L190.2 429.7L198.9 430.8L207.6 432.5L216.3 435.0L224.9 438.0L233.4 441.6L241.7 445.8L249.8 450.6L257.5 455.8L264.9 461.6L271.8 467.7L278.2 474.2L284.1 481.1L289.4 488.2L294.0 495.6L298.1 503.1L301.4 510.7L304.0 518.4L305.9 526.0L307.0 533.6L307.4 541.1L307.0 548.4L305.9 555.4L304.0 562.2L301.4 568.6Z" fill="#000"/></g></mask></defs><g mask="url(#rBm)"><path d="M316.3 571.3L311.2 578.6L305.4 585.3L298.8 591.4L291.6 596.9L283.7 601.7L275.3 605.8L266.4 609.0L257.1 611.6L247.4 613.3L237.4 614.1L227.2 614.2L216.9 613.4L206.5 611.8L196.2 609.4L186.0 606.3L175.9 602.3L166.1 597.6L156.7 592.2L147.6 586.2L139.0 579.5L131.0 572.3L123.6 564.6L116.8 556.4L110.7 547.8L105.4 539.0L100.9 529.8L97.2 520.5L94.4 511.1L92.5 501.6L91.4 492.2L91.3 482.8L92.0 473.7L93.7 464.8L96.3 456.1L99.7 447.9L103.9 440.1L109.0 432.8L114.8 426.1L121.4 420.0L128.6 414.5L136.5 409.7L144.9 405.6L153.8 402.4L163.1 399.8L172.8 398.1L182.8 397.3L193.0 397.2L203.3 398.0L213.7 399.6L224.0 402.0L234.2 405.1L244.3 409.1L254.1 413.8L263.5 419.2L272.6 425.2L281.2 431.9L289.2 439.1L296.6 446.8L303.4 455.0L309.5 463.6L314.8 472.4L319.3 481.6L323.0 490.9L325.8 500.3L327.7 509.8L328.8 519.2L328.9 528.6L328.2 537.7L326.5 546.6L323.9 555.3L320.5 563.5Z" fill="#dfaa27" stroke="#0a0a0a" stroke-width="2.8"/><g clip-path="url(#rBsil)"><path d="M316.2 570.3L311.1 577.5L305.3 584.2L298.8 590.2L291.7 595.7L283.9 600.4L275.5 604.4L266.7 607.6L257.4 610.1L247.7 611.7L237.8 612.6L227.7 612.6L217.4 611.8L207.1 610.2L196.9 607.8L186.7 604.6L176.7 600.7L166.9 596.0L157.5 590.6L148.5 584.6L140.0 578.0L132.0 570.8L124.6 563.1L117.8 555.0L111.8 546.5L106.5 537.7L102.0 528.6L98.3 519.4L95.5 510.0L93.6 500.6L92.5 491.2L92.4 482.0L93.1 472.9L94.8 464.0L97.3 455.5L100.7 447.3L104.9 439.6L109.9 432.4L115.7 425.7L122.2 419.7L129.4 414.3L137.2 409.5L145.5 405.5L154.4 402.3L163.6 399.8L173.3 398.2L183.2 397.3L193.3 397.3L203.6 398.1L213.9 399.7L224.2 402.1L234.4 405.3L244.4 409.2L254.1 413.9L263.5 419.3L272.5 425.3L281.0 431.9L289.0 439.1L296.4 446.8L303.2 454.9L309.2 463.4L314.5 472.3L319.0 481.3L322.7 490.6L325.5 499.9L327.4 509.3L328.5 518.7L328.7 528.0L327.9 537.1L326.3 545.9L323.8 554.4L320.4 562.6Z" fill="none" stroke="#c58b16" stroke-width="3.0" opacity="0.9"/><path d="M315.8 567.4L310.9 574.4L305.2 580.8L298.9 586.7L291.8 591.9L284.2 596.4L276.0 600.3L267.3 603.4L258.3 605.7L248.8 607.2L239.1 608.0L229.1 607.9L219.1 607.1L208.9 605.4L198.8 603.0L188.8 599.8L179.0 595.9L169.4 591.2L160.1 585.9L151.3 580.0L142.8 573.4L135.0 566.3L127.7 558.8L121.0 550.8L115.0 542.5L109.8 533.8L105.3 524.9L101.7 515.9L98.9 506.7L96.9 497.5L95.9 488.4L95.7 479.4L96.3 470.5L97.9 461.9L100.3 453.6L103.6 445.7L107.7 438.2L112.6 431.2L118.3 424.7L124.6 418.8L131.7 413.6L139.3 409.1L147.5 405.2L156.2 402.2L165.3 399.8L174.7 398.3L184.4 397.6L194.4 397.6L204.5 398.5L214.6 400.1L224.7 402.5L234.7 405.7L244.5 409.7L254.1 414.3L263.4 419.6L272.2 425.6L280.7 432.1L288.5 439.2L295.8 446.7L302.5 454.7L308.5 463.1L313.7 471.7L318.2 480.6L321.8 489.6L324.6 498.8L326.6 508.0L327.7 517.1L327.8 526.2L327.2 535.0L325.6 543.6L323.2 551.9L319.9 559.9Z" fill="none" stroke="#efc846" stroke-width="3.4" opacity="0.95"/><path d="M315.4 564.3L310.6 571.0L305.1 577.3L298.9 582.9L292.0 587.9L284.6 592.3L276.6 596.0L268.1 598.9L259.2 601.1L249.9 602.5L240.4 603.1L230.6 603.0L220.7 602.1L210.8 600.4L200.9 597.9L191.1 594.7L181.4 590.8L172.0 586.2L162.9 580.9L154.1 575.1L145.9 568.6L138.1 561.7L130.9 554.3L124.3 546.4L118.4 538.2L113.2 529.8L108.8 521.1L105.2 512.2L102.4 503.3L100.4 494.3L99.3 485.4L99.1 476.6L99.7 468.0L101.2 459.6L103.6 451.6L106.7 443.9L110.7 436.6L115.5 429.9L121.0 423.6L127.2 418.0L134.1 413.0L141.5 408.6L149.5 404.9L158.0 402.0L166.9 399.8L176.2 398.4L185.7 397.8L195.5 397.9L205.4 398.8L215.3 400.5L225.2 403.0L235.0 406.2L244.7 410.1L254.1 414.7L263.2 420.0L272.0 425.8L280.2 432.3L288.0 439.2L295.2 446.6L301.8 454.5L307.7 462.7L312.9 471.1L317.3 479.8L320.9 488.7L323.7 497.6L325.7 506.6L326.8 515.5L327.0 524.3L326.4 532.9L324.9 541.3L322.5 549.3L319.4 557.0Z" fill="none" stroke="#cf971c" stroke-width="3.2" opacity="0.8"/><path d="M315.0 560.9L310.3 567.4L305.0 573.4L298.9 578.8L292.3 583.6L285.0 587.8L277.2 591.3L268.9 594.0L260.2 596.0L251.1 597.3L241.8 597.8L232.3 597.6L222.6 596.6L212.9 594.9L203.2 592.4L193.5 589.2L184.0 585.3L174.8 580.7L165.9 575.5L157.3 569.7L149.1 563.4L141.5 556.6L134.4 549.3L127.9 541.6L122.1 533.6L117.0 525.4L112.6 516.9L109.0 508.3L106.2 499.6L104.3 490.9L103.1 482.2L102.8 473.7L103.4 465.3L104.8 457.2L107.1 449.4L110.1 442.0L114.0 435.0L118.6 428.4L123.9 422.5L130.0 417.0L136.7 412.2L143.9 408.1L151.7 404.6L160.0 401.9L168.7 399.8L177.8 398.5L187.1 398.0L196.7 398.3L206.3 399.3L216.1 401.0L225.8 403.5L235.4 406.7L244.9 410.6L254.1 415.1L263.1 420.3L271.7 426.1L279.8 432.5L287.4 439.3L294.5 446.6L301.0 454.2L306.8 462.2L311.9 470.5L316.3 479.0L319.9 487.6L322.7 496.3L324.7 505.0L325.8 513.7L326.1 522.2L325.5 530.6L324.1 538.7L321.9 546.5L318.8 553.9Z" fill="none" stroke="#f2cf50" stroke-width="4.0" opacity="0.95"/><path d="M314.6 558.4L310.1 564.7L304.9 570.5L299.0 575.8L292.4 580.4L285.3 584.4L277.6 587.7L269.5 590.3L261.0 592.3L252.1 593.4L242.9 593.9L233.5 593.6L224.0 592.5L214.4 590.7L204.9 588.2L195.4 585.0L186.0 581.1L176.9 576.6L168.1 571.5L159.6 565.7L151.6 559.5L144.1 552.8L137.1 545.6L130.7 538.1L124.9 530.2L119.8 522.1L115.5 513.8L111.9 505.3L109.1 496.8L107.1 488.3L106.0 479.8L105.7 471.4L106.2 463.3L107.5 455.4L109.7 447.8L112.7 440.5L116.4 433.7L120.9 427.4L126.2 421.6L132.1 416.3L138.6 411.7L145.7 407.7L153.4 404.4L161.5 401.7L170.1 399.8L179.0 398.6L188.2 398.2L197.5 398.5L207.0 399.6L216.6 401.3L226.2 403.8L235.7 407.1L245.0 410.9L254.1 415.5L263.0 420.6L271.4 426.3L279.4 432.6L287.0 439.3L294.0 446.5L300.4 454.0L306.2 461.9L311.2 470.0L315.6 478.3L319.1 486.8L321.9 495.3L323.9 503.8L325.1 512.3L325.4 520.6L324.9 528.8L323.5 536.7L321.4 544.3L318.4 551.5Z" fill="none" stroke="#dba323" stroke-width="2.5" opacity="0.8"/></g><g clip-path="url(#rBsil)"><path d="M314.5 557.2L310.0 563.5L304.9 569.2L299.0 574.4L292.5 579.0L285.5 582.9L277.9 586.1L269.8 588.7L261.3 590.6L252.5 591.7L243.4 592.1L234.1 591.8L224.6 590.7L215.1 588.9L205.6 586.4L196.2 583.2L186.9 579.3L177.9 574.8L169.1 569.7L160.7 564.0L152.7 557.8L145.2 551.1L138.2 544.0L131.9 536.5L126.1 528.7L121.1 520.6L116.8 512.4L113.2 504.0L110.4 495.5L108.4 487.1L107.3 478.7L106.9 470.5L107.4 462.4L108.7 454.6L110.9 447.0L113.8 439.9L117.5 433.2L122.0 426.9L127.1 421.2L133.0 416.0L139.5 411.4L146.5 407.5L154.1 404.3L162.2 401.7L170.7 399.8L179.5 398.7L188.6 398.3L197.9 398.6L207.4 399.7L216.9 401.5L226.4 404.0L235.8 407.2L245.1 411.1L254.1 415.6L262.9 420.7L271.3 426.4L279.3 432.6L286.8 439.3L293.8 446.4L300.1 453.9L305.9 461.7L310.9 469.8L315.2 478.0L318.8 486.4L321.6 494.9L323.6 503.3L324.7 511.7L325.1 519.9L324.6 528.0L323.3 535.8L321.1 543.4L318.2 550.5Z" fill="#fffbe8" stroke="#efc233" stroke-width="1.4"/></g><path d="M307.0 552.1L303.0 557.7L298.3 562.8L293.0 567.4L287.1 571.5L280.7 574.9L273.7 577.8L266.4 580.0L258.7 581.5L250.6 582.4L242.3 582.7L233.8 582.2L225.1 581.1L216.4 579.4L207.7 576.9L199.1 573.9L190.6 570.3L182.3 566.1L174.2 561.3L166.5 556.1L159.1 550.3L152.2 544.2L145.8 537.7L139.9 530.8L134.6 523.7L130.0 516.3L125.9 508.8L122.6 501.2L120.0 493.5L118.1 485.9L117.0 478.3L116.6 470.8L117.0 463.5L118.1 456.5L120.0 449.7L122.6 443.3L126.0 437.3L130.0 431.7L134.7 426.6L140.0 422.0L145.9 417.9L152.3 414.5L159.3 411.6L166.6 409.4L174.3 407.9L182.4 407.0L190.7 406.7L199.2 407.2L207.9 408.3L216.6 410.0L225.3 412.5L233.9 415.5L242.4 419.1L250.7 423.3L258.8 428.1L266.5 433.3L273.9 439.1L280.8 445.2L287.2 451.7L293.1 458.6L298.4 465.7L303.0 473.1L307.1 480.6L310.4 488.2L313.0 495.9L314.9 503.5L316.0 511.1L316.4 518.6L316.0 525.9L314.9 532.9L313.0 539.7L310.4 546.1Z" fill="#c8932c" stroke="#ffd21a" stroke-width="6.0"/><path d="M307.0 552.1L303.0 557.7L298.3 562.8L293.0 567.4L287.1 571.5L280.7 574.9L273.7 577.8L266.4 580.0L258.7 581.5L250.6 582.4L242.3 582.7L233.8 582.2L225.1 581.1L216.4 579.4L207.7 576.9L199.1 573.9L190.6 570.3L182.3 566.1L174.2 561.3L166.5 556.1L159.1 550.3L152.2 544.2L145.8 537.7L139.9 530.8L134.6 523.7L130.0 516.3L125.9 508.8L122.6 501.2L120.0 493.5L118.1 485.9L117.0 478.3L116.6 470.8L117.0 463.5L118.1 456.5L120.0 449.7L122.6 443.3L126.0 437.3L130.0 431.7L134.7 426.6L140.0 422.0L145.9 417.9L152.3 414.5L159.3 411.6L166.6 409.4L174.3 407.9L182.4 407.0L190.7 406.7L199.2 407.2L207.9 408.3L216.6 410.0L225.3 412.5L233.9 415.5L242.4 419.1L250.7 423.3L258.8 428.1L266.5 433.3L273.9 439.1L280.8 445.2L287.2 451.7L293.1 458.6L298.4 465.7L303.0 473.1L307.1 480.6L310.4 488.2L313.0 495.9L314.9 503.5L316.0 511.1L316.4 518.6L316.0 525.9L314.9 532.9L313.0 539.7L310.4 546.1Z" fill="#c8932c" stroke="#0a0a0a" stroke-width="3.2"/><g clip-path="url(#rBri)"><path d="M302.5 563.4L298.5 569.0L293.8 574.1L288.5 578.7L282.6 582.7L276.2 586.2L269.2 589.0L261.9 591.2L254.2 592.8L246.1 593.7L237.8 593.9L229.3 593.5L220.6 592.4L211.9 590.6L203.2 588.2L194.6 585.2L186.1 581.5L177.8 577.3L169.7 572.6L162.0 567.3L154.6 561.6L147.7 555.4L141.3 548.9L135.4 542.1L130.1 534.9L125.5 527.6L121.4 520.1L118.1 512.4L115.5 504.8L113.6 497.1L112.5 489.5L112.1 482.0L112.5 474.8L113.6 467.7L115.5 461.0L118.1 454.5L121.5 448.5L125.5 442.9L130.2 437.8L135.5 433.2L141.4 429.2L147.8 425.7L154.8 422.9L162.1 420.7L169.8 419.1L177.9 418.2L186.2 418.0L194.7 418.4L203.4 419.5L212.1 421.3L220.8 423.7L229.4 426.7L237.9 430.4L246.2 434.6L254.3 439.3L262.0 444.6L269.4 450.3L276.3 456.5L282.7 463.0L288.6 469.8L293.9 477.0L298.5 484.3L302.6 491.8L305.9 499.5L308.5 507.1L310.4 514.8L311.5 522.4L311.9 529.9L311.5 537.1L310.4 544.2L308.5 550.9L305.9 557.4Z" fill="none" stroke="#d6a23a" stroke-width="5" opacity=".5"/><path d="M298.0 574.6L294.0 580.2L289.3 585.3L284.0 589.9L278.1 594.0L271.7 597.4L264.7 600.3L257.4 602.5L249.7 604.0L241.6 604.9L233.3 605.2L224.8 604.7L216.1 603.6L207.4 601.9L198.7 599.4L190.1 596.4L181.6 592.8L173.3 588.6L165.2 583.8L157.5 578.6L150.1 572.8L143.2 566.7L136.8 560.2L130.9 553.3L125.6 546.2L121.0 538.8L116.9 531.3L113.6 523.7L111.0 516.0L109.1 508.4L108.0 500.8L107.6 493.3L108.0 486.0L109.1 479.0L111.0 472.2L113.6 465.8L117.0 459.8L121.0 454.2L125.7 449.1L131.0 444.5L136.9 440.4L143.3 437.0L150.3 434.1L157.6 431.9L165.3 430.4L173.4 429.5L181.7 429.2L190.2 429.7L198.9 430.8L207.6 432.5L216.3 435.0L224.9 438.0L233.4 441.6L241.7 445.8L249.8 450.6L257.5 455.8L264.9 461.6L271.8 467.7L278.2 474.2L284.1 481.1L289.4 488.2L294.0 495.6L298.1 503.1L301.4 510.7L304.0 518.4L305.9 526.0L307.0 533.6L307.4 541.1L307.0 548.4L305.9 555.4L304.0 562.2L301.4 568.6Z" fill="none" stroke="#0a0a0a" stroke-width="5.0"/></g><path d="M316.3 571.3L311.2 578.6L305.4 585.3L298.8 591.4L291.6 596.9L283.7 601.7L275.3 605.8L266.4 609.0L257.1 611.6L247.4 613.3L237.4 614.1L227.2 614.2L216.9 613.4L206.5 611.8L196.2 609.4L186.0 606.3L175.9 602.3L166.1 597.6L156.7 592.2L147.6 586.2L139.0 579.5L131.0 572.3L123.6 564.6L116.8 556.4L110.7 547.8L105.4 539.0L100.9 529.8L97.2 520.5L94.4 511.1L92.5 501.6L91.4 492.2L91.3 482.8L92.0 473.7L93.7 464.8L96.3 456.1L99.7 447.9L103.9 440.1L109.0 432.8L114.8 426.1L121.4 420.0L128.6 414.5L136.5 409.7L144.9 405.6L153.8 402.4L163.1 399.8L172.8 398.1L182.8 397.3L193.0 397.2L203.3 398.0L213.7 399.6L224.0 402.0L234.2 405.1L244.3 409.1L254.1 413.8L263.5 419.2L272.6 425.2L281.2 431.9L289.2 439.1L296.6 446.8L303.4 455.0L309.5 463.6L314.8 472.4L319.3 481.6L323.0 490.9L325.8 500.3L327.7 509.8L328.8 519.2L328.9 528.6L328.2 537.7L326.5 546.6L323.9 555.3L320.5 563.5Z" fill="none" stroke="#0a0a0a" stroke-width="2.8"/></g></svg>
<div class="page" id="page1" style="left:220.0px;top:33.0px;width:398.6px;height:565.0px">
<svg width="398.6" height="565.0" viewBox="0 0 398.6 565.0"><g transform="translate(-220.0 -33.0)"><g stroke="#0c0c22" stroke-width="1.25" stroke-linejoin="round"><path d="M302.00 235.70L302.00 184.30A51.4 51.4 0 0 1 327.70 191.19Z" fill="#3aa9f0"/><path d="M302.00 235.70L327.70 191.19A51.4 51.4 0 0 1 346.51 210.00Z" fill="#ffe100"/><path d="M302.00 235.70L346.51 210.00A51.4 51.4 0 0 1 353.40 235.70Z" fill="#e8211d"/><path d="M302.00 235.70L353.40 235.70A51.4 51.4 0 0 1 346.51 261.40Z" fill="#e8211d"/><path d="M302.00 235.70L346.51 261.40A51.4 51.4 0 0 1 327.70 280.21Z" fill="#0a9a3c"/><path d="M302.00 235.70L327.70 280.21A51.4 51.4 0 0 1 302.00 287.10Z" fill="#e8211d"/><path d="M302.00 235.70L302.00 287.10A51.4 51.4 0 0 1 276.30 280.21Z" fill="#ffe100"/><path d="M302.00 235.70L276.30 280.21A51.4 51.4 0 0 1 257.49 261.40Z" fill="#e8211d"/><path d="M302.00 235.70L257.49 261.40A51.4 51.4 0 0 1 250.60 235.70Z" fill="#0a9a3c"/><path d="M302.00 235.70L250.60 235.70A51.4 51.4 0 0 1 257.49 210.00Z" fill="#e8211d"/><path d="M302.00 235.70L257.49 210.00A51.4 51.4 0 0 1 276.30 191.19Z" fill="#e8211d"/><path d="M302.00 235.70L276.30 191.19A51.4 51.4 0 0 1 302.00 184.30Z" fill="#ffe100"/><circle cx="302.0" cy="235.7" r="51.4" fill="none" stroke="#0c0c22" stroke-width="1.45"/><circle cx="302.0" cy="235.7" r="1.8" fill="#111" stroke="none"/></g><g stroke="#0c0c22" stroke-width="1.05" stroke-linejoin="round"><path d="M419.30 235.50L419.30 184.20A51.3 51.3 0 0 1 432.58 185.95Z" fill="#8e3a9e"/><path d="M419.30 235.50L432.58 185.95A51.3 51.3 0 0 1 444.95 191.07Z" fill="#19b0ee"/><path d="M419.30 235.50L444.95 191.07A51.3 51.3 0 0 1 455.57 199.23Z" fill="#8e3a9e"/><path d="M419.30 235.50L455.57 199.23A51.3 51.3 0 0 1 463.73 209.85Z" fill="#0a9a3c"/><path d="M419.30 235.50L463.73 209.85A51.3 51.3 0 0 1 468.85 222.22Z" fill="#8e3a9e"/><path d="M419.30 235.50L468.85 222.22A51.3 51.3 0 0 1 470.60 235.50Z" fill="#8e3a9e"/><path d="M419.30 235.50L470.60 235.50A51.3 51.3 0 0 1 468.85 248.78Z" fill="#8e3a9e"/><path d="M419.30 235.50L468.85 248.78A51.3 51.3 0 0 1 463.73 261.15Z" fill="#ffe100"/><path d="M419.30 235.50L463.73 261.15A51.3 51.3 0 0 1 455.57 271.77Z" fill="#0a9a3c"/><path d="M419.30 235.50L455.57 271.77A51.3 51.3 0 0 1 444.95 279.93Z" fill="#0a9a3c"/><path d="M419.30 235.50L444.95 279.93A51.3 51.3 0 0 1 432.58 285.05Z" fill="#0a9a3c"/><path d="M419.30 235.50L432.58 285.05A51.3 51.3 0 0 1 419.30 286.80Z" fill="#19b0ee"/><path d="M419.30 235.50L419.30 286.80A51.3 51.3 0 0 1 406.02 285.05Z" fill="#8e3a9e"/><path d="M419.30 235.50L406.02 285.05A51.3 51.3 0 0 1 393.65 279.93Z" fill="#19b0ee"/><path d="M419.30 235.50L393.65 279.93A51.3 51.3 0 0 1 383.03 271.77Z" fill="#8e3a9e"/><path d="M419.30 235.50L383.03 271.77A51.3 51.3 0 0 1 374.87 261.15Z" fill="#8e3a9e"/><path d="M419.30 235.50L374.87 261.15A51.3 51.3 0 0 1 369.75 248.78Z" fill="#ffe100"/><path d="M419.30 235.50L369.75 248.78A51.3 51.3 0 0 1 368.00 235.50Z" fill="#ffe100"/><path d="M419.30 235.50L368.00 235.50A51.3 51.3 0 0 1 369.75 222.22Z" fill="#8e3a9e"/><path d="M419.30 235.50L369.75 222.22A51.3 51.3 0 0 1 374.87 209.85Z" fill="#e8211d"/><path d="M419.30 235.50L374.87 209.85A51.3 51.3 0 0 1 383.03 199.23Z" fill="#8e3a9e"/><path d="M419.30 235.50L383.03 199.23A51.3 51.3 0 0 1 393.65 191.07Z" fill="#ffe100"/><path d="M419.30 235.50L393.65 191.07A51.3 51.3 0 0 1 406.02 185.95Z" fill="#0a9a3c"/><path d="M419.30 235.50L406.02 185.95A51.3 51.3 0 0 1 419.30 184.20Z" fill="#0a9a3c"/><circle cx="419.3" cy="235.5" r="51.3" fill="none" stroke="#0c0c22" stroke-width="1.25"/><circle cx="419.3" cy="235.5" r="2.6" fill="#111" stroke="none"/></g><g stroke="#0c0c22" stroke-width="0.95" stroke-linejoin="round"><path d="M537.40 235.50L537.40 184.10A51.4 51.4 0 0 1 546.33 184.88Z" fill="#8e3a9e"/><path d="M537.40 235.50L546.33 184.88A51.4 51.4 0 0 1 554.98 187.20Z" fill="#8e3a9e"/><path d="M537.40 235.50L554.98 187.20A51.4 51.4 0 0 1 563.10 190.99Z" fill="#e8211d"/><path d="M537.40 235.50L563.10 190.99A51.4 51.4 0 0 1 570.44 196.13Z" fill="#e8211d"/><path d="M537.40 235.50L570.44 196.13A51.4 51.4 0 0 1 576.77 202.46Z" fill="#ffffff"/><path d="M537.40 235.50L576.77 202.46A51.4 51.4 0 0 1 581.91 209.80Z" fill="#ffe100"/><path d="M537.40 235.50L581.91 209.80A51.4 51.4 0 0 1 585.70 217.92Z" fill="#ffe100"/><path d="M537.40 235.50L585.70 217.92A51.4 51.4 0 0 1 588.02 226.57Z" fill="#ffe100"/><path d="M537.40 235.50L588.02 226.57A51.4 51.4 0 0 1 588.80 235.50Z" fill="#ffffff"/><path d="M537.40 235.50L588.80 235.50A51.4 51.4 0 0 1 588.02 244.43Z" fill="#ffffff"/><path d="M537.40 235.50L588.02 244.43A51.4 51.4 0 0 1 585.70 253.08Z" fill="#ffffff"/><path d="M537.40 235.50L585.70 253.08A51.4 51.4 0 0 1 581.91 261.20Z" fill="#ffe100"/><path d="M537.40 235.50L581.91 261.20A51.4 51.4 0 0 1 576.77 268.54Z" fill="#ffffff"/><path d="M537.40 235.50L576.77 268.54A51.4 51.4 0 0 1 570.44 274.87Z" fill="#19b0ee"/><path d="M537.40 235.50L570.44 274.87A51.4 51.4 0 0 1 563.10 280.01Z" fill="#e8211d"/><path d="M537.40 235.50L563.10 280.01A51.4 51.4 0 0 1 554.98 283.80Z" fill="#e8211d"/><path d="M537.40 235.50L554.98 283.80A51.4 51.4 0 0 1 546.33 286.12Z" fill="#e8211d"/><path d="M537.40 235.50L546.33 286.12A51.4 51.4 0 0 1 537.40 286.90Z" fill="#0a9a3c"/><path d="M537.40 235.50L537.40 286.90A51.4 51.4 0 0 1 528.47 286.12Z" fill="#f7941d"/><path d="M537.40 235.50L528.47 286.12A51.4 51.4 0 0 1 519.82 283.80Z" fill="#f7941d"/><path d="M537.40 235.50L519.82 283.80A51.4 51.4 0 0 1 511.70 280.01Z" fill="#8e3a9e"/><path d="M537.40 235.50L511.70 280.01A51.4 51.4 0 0 1 504.36 274.87Z" fill="#8e3a9e"/><path d="M537.40 235.50L504.36 274.87A51.4 51.4 0 0 1 498.03 268.54Z" fill="#8e3a9e"/><path d="M537.40 235.50L498.03 268.54A51.4 51.4 0 0 1 492.89 261.20Z" fill="#ffffff"/><path d="M537.40 235.50L492.89 261.20A51.4 51.4 0 0 1 489.10 253.08Z" fill="#ffffff"/><path d="M537.40 235.50L489.10 253.08A51.4 51.4 0 0 1 486.78 244.43Z" fill="#ffe100"/><path d="M537.40 235.50L486.78 244.43A51.4 51.4 0 0 1 486.00 235.50Z" fill="#ffe100"/><path d="M537.40 235.50L486.00 235.50A51.4 51.4 0 0 1 486.78 226.57Z" fill="#e8211d"/><path d="M537.40 235.50L486.78 226.57A51.4 51.4 0 0 1 489.10 217.92Z" fill="#19b0ee"/><path d="M537.40 235.50L489.10 217.92A51.4 51.4 0 0 1 492.89 209.80Z" fill="#19b0ee"/><path d="M537.40 235.50L492.89 209.80A51.4 51.4 0 0 1 498.03 202.46Z" fill="#ffffff"/><path d="M537.40 235.50L498.03 202.46A51.4 51.4 0 0 1 504.36 196.13Z" fill="#ffffff"/><path d="M537.40 235.50L504.36 196.13A51.4 51.4 0 0 1 511.70 190.99Z" fill="#ffe100"/><path d="M537.40 235.50L511.70 190.99A51.4 51.4 0 0 1 519.82 187.20Z" fill="#ffe100"/><path d="M537.40 235.50L519.82 187.20A51.4 51.4 0 0 1 528.47 184.88Z" fill="#ffe100"/><path d="M537.40 235.50L528.47 184.88A51.4 51.4 0 0 1 537.40 184.10Z" fill="#ffe100"/><circle cx="537.4" cy="235.5" r="51.4" fill="none" stroke="#0c0c22" stroke-width="1.15"/><circle cx="537.4" cy="235.5" r="3.2" fill="#111" stroke="none"/></g><path d="M238.90 337.30H600.00M238.90 361.00H600.00M238.90 389.80H600.00M238.90 413.70H600.00M238.90 437.50H600.00M238.90 461.30H600.00M238.90 484.90H600.00M238.90 508.70H600.00M238.90 532.50H600.00M238.90 551.40H600.00M239.50 337.30V551.40M293.40 361.00V551.40M359.40 337.30V551.40M414.40 361.00V551.40M479.50 337.30V551.40M534.60 361.00V551.40M599.40 337.30V551.40" stroke="#111" stroke-width="1.15" fill="none"/><path d="M239.0 556.1H600.0" stroke="#0a2fa0" stroke-width="1.8"/><ellipse cx="243.51" cy="568.80" rx="4.71" ry="6.00" fill="#0a2a9c"/><ellipse cx="248.22" cy="565.40" rx="5.34" ry="5.40" fill="#0a2a9c"/><ellipse cx="255.13" cy="564.20" rx="6.28" ry="5.40" fill="#0a2a9c"/><ellipse cx="262.04" cy="565.40" rx="5.02" ry="5.00" fill="#0a2a9c"/><ellipse cx="266.12" cy="567.20" rx="4.08" ry="4.80" fill="#0a2a9c"/><ellipse cx="263.92" cy="571.20" rx="4.71" ry="5.00" fill="#0a2a9c"/><ellipse cx="257.64" cy="573.20" rx="5.65" ry="5.00" fill="#0a2a9c"/><ellipse cx="250.10" cy="574.00" rx="6.28" ry="4.80" fill="#0a2a9c"/><ellipse cx="245.08" cy="572.00" rx="4.40" ry="4.80" fill="#0a2a9c"/><ellipse cx="254.50" cy="568.80" rx="11.93" ry="6.80" fill="#0a2a9c"/><ellipse cx="255.13" cy="562.20" rx="4.08" ry="2.00" fill="#1b86d0"/><ellipse cx="250.10" cy="576.20" rx="4.71" ry="1.80" fill="#1b86d0"/><ellipse cx="265.80" cy="564.80" rx="1.88" ry="1.60" fill="#1b86d0"/><text x="253.6" y="571.4" font-family="Liberation Sans, sans-serif" font-weight="700" font-size="7.4" fill="#fff" text-anchor="middle" textLength="21.6" lengthAdjust="spacingAndGlyphs">twinkl</text><rect x="578.4" y="558.4" width="21.6" height="21.2" rx="1.2" fill="#fff" stroke="#9cc9ea" stroke-width="0.7"/><ellipse cx="582.48" cy="565.20" rx="2.88" ry="3.72" fill="#0a2a9c"/><ellipse cx="585.36" cy="563.09" rx="3.26" ry="3.35" fill="#0a2a9c"/><ellipse cx="589.58" cy="562.35" rx="3.84" ry="3.35" fill="#0a2a9c"/><ellipse cx="593.81" cy="563.09" rx="3.07" ry="3.10" fill="#0a2a9c"/><ellipse cx="596.30" cy="564.21" rx="2.50" ry="2.98" fill="#0a2a9c"/><ellipse cx="594.96" cy="566.69" rx="2.88" ry="3.10" fill="#0a2a9c"/><ellipse cx="591.12" cy="567.93" rx="3.46" ry="3.10" fill="#0a2a9c"/><ellipse cx="586.51" cy="568.42" rx="3.84" ry="2.98" fill="#0a2a9c"/><ellipse cx="583.44" cy="567.18" rx="2.69" ry="2.98" fill="#0a2a9c"/><ellipse cx="589.20" cy="565.20" rx="7.30" ry="4.22" fill="#0a2a9c"/><ellipse cx="589.58" cy="561.11" rx="2.50" ry="1.24" fill="#1b86d0"/><ellipse cx="586.51" cy="569.79" rx="2.88" ry="1.12" fill="#1b86d0"/><ellipse cx="596.11" cy="562.72" rx="1.15" ry="0.99" fill="#1b86d0"/><text x="589.0" y="566.9" font-family="Liberation Sans, sans-serif" font-weight="700" font-size="4.6" fill="#fff" text-anchor="middle" textLength="13" lengthAdjust="spacingAndGlyphs">twinkl</text><path d="M581.4 573.6H597.4M584.4 576.4H593.9" stroke="#2a7fd0" stroke-width="0.7"/><path d="M596.0 578.6L601.0 574.2" stroke="#0b2a9e" stroke-width="1.6" stroke-linecap="round"/></g></svg>
<span class="t b" style="left:35.00px;top:22px;font-size:20.6px;letter-spacing:0.042px;color:#0a1288;-webkit-text-stroke-color:#0a1288;-webkit-text-stroke-width:0;">The Royal Wedding: Decorate the</span>
<span class="t b" style="left:95.20px;top:48px;font-size:20.6px;letter-spacing:-0.094px;color:#0a1288;-webkit-text-stroke-color:#0a1288;-webkit-text-stroke-width:0;">Cake Using Fractions</span>
<span class="t" style="left:18.70px;top:78px;font-size:9px;letter-spacing:-0.198px;">Some bakers have been asked to plan a wedding cake for the Royal Wedding. All of the bakers</span>
<span class="t" style="left:18.70px;top:90px;font-size:9px;letter-spacing:-0.160px;">have been told to use fractions to assist their designs.</span>
<span class="t b" style="left:18.70px;top:109px;font-size:9.2px;letter-spacing:-0.054px;">Simplifying Tiers</span>
<span class="t" style="left:18.70px;top:120px;font-size:9px;letter-spacing:-0.063px;">One baker makes three circular tiers, where the decoration is divided into a different number</span>
<span class="t" style="left:18.70px;top:133px;font-size:9px;letter-spacing:-0.170px;">of equal parts on each section.</span>
<span class="t b" style="left:68.00px;top:260px;font-size:7.2px;letter-spacing:0.116px;">Top Tier</span>
<span class="t b" style="left:179.40px;top:260px;font-size:7.2px;letter-spacing:0.259px;">Middle Tier</span>
<span class="t b" style="left:296.00px;top:260px;font-size:7.2px;letter-spacing:0.180px;">Bottom Tier</span>
<span class="t" style="left:25.40px;top:275px;font-size:8.3px;letter-spacing:-0.922px;">1.</span>
<span class="t" style="left:36.50px;top:275px;font-size:8.3px;letter-spacing:0.106px;">For the tiers, write what fraction of the cake is decorated in each colour. Write each fraction</span>
<span class="t" style="left:36.50px;top:288px;font-size:8.3px;letter-spacing:0.140px;">in its simplest form.</span>
<span class="t b" style="left:25.40px;top:314px;font-size:7.4px;letter-spacing:0.133px;">Top Tier</span>
<span class="t b" style="left:145.20px;top:314px;font-size:7.4px;letter-spacing:0.191px;">Middle Tier</span>
<span class="t b" style="left:265.90px;top:314px;font-size:7.4px;letter-spacing:0.076px;">Bottom Tier</span>
<span class="t b" style="left:25.40px;top:339px;font-size:7.4px;letter-spacing:-0.002px;">Colour</span>
<span class="t b" style="left:145.20px;top:339px;font-size:7.4px;letter-spacing:-0.002px;">Colour</span>
<span class="t b" style="left:265.90px;top:339px;font-size:7.4px;letter-spacing:-0.002px;">Colour</span>
<span class="t b" style="left:79.80px;top:334px;font-size:7.4px;letter-spacing:0.142px;">Fraction in</span>
<span class="t b" style="left:79.80px;top:344px;font-size:7.4px;letter-spacing:0.046px;">Simplest Form</span>
<span class="t b" style="left:200.80px;top:334px;font-size:7.4px;letter-spacing:0.142px;">Fraction in</span>
<span class="t b" style="left:200.80px;top:344px;font-size:7.4px;letter-spacing:0.046px;">Simplest Form</span>
<span class="t b" style="left:320.60px;top:334px;font-size:7.4px;letter-spacing:0.142px;">Fraction in</span>
<span class="t b" style="left:320.60px;top:344px;font-size:7.4px;letter-spacing:0.046px;">Simplest Form</span>
<span class="t" style="left:25.40px;top:364px;font-size:7.4px;letter-spacing:0.101px;">Blue</span>
<span class="t" style="left:25.40px;top:388px;font-size:7.4px;letter-spacing:-0.187px;">Green</span>
<span class="t" style="left:25.40px;top:412px;font-size:7.4px;letter-spacing:0.221px;">Yellow</span>
<span class="t" style="left:25.40px;top:435px;font-size:7.4px;letter-spacing:-0.831px;">Red</span>
<span class="t" style="left:145.20px;top:364px;font-size:7.4px;letter-spacing:-0.831px;">Red</span>
<span class="t" style="left:145.20px;top:388px;font-size:7.4px;letter-spacing:0.101px;">Blue</span>
<span class="t" style="left:145.20px;top:412px;font-size:7.4px;letter-spacing:0.221px;">Yellow</span>
<span class="t" style="left:145.20px;top:435px;font-size:7.4px;letter-spacing:-0.187px;">Green</span>
<span class="t" style="left:145.20px;top:459px;font-size:7.4px;letter-spacing:0.225px;">Purple</span>
<span class="t" style="left:265.50px;top:364px;font-size:7.4px;letter-spacing:-0.187px;">Green</span>
<span class="t" style="left:265.50px;top:388px;font-size:7.4px;letter-spacing:0.149px;">Orange</span>
<span class="t" style="left:265.50px;top:412px;font-size:7.4px;letter-spacing:0.101px;">Blue</span>
<span class="t" style="left:265.50px;top:435px;font-size:7.4px;letter-spacing:0.225px;">Purple</span>
<span class="t" style="left:265.50px;top:459px;font-size:7.4px;letter-spacing:-0.831px;">Red</span>
<span class="t" style="left:265.50px;top:483px;font-size:7.4px;letter-spacing:0.423px;">White</span>
<span class="t" style="left:265.50px;top:507px;font-size:7.4px;letter-spacing:0.221px;">Yellow</span>
<span class="t b" style="left:185.70px;top:535px;font-size:4.6px;letter-spacing:0.243px;">Page 1 of 3</span>
<span class="t b" style="left:318.30px;top:535px;font-size:4.6px;letter-spacing:0.099px;color:#1565c0;-webkit-text-stroke-color:#1565c0;">visit twinkl.com</span>
</div>
<div class="page" id="page2" style="left:639.0px;top:33.0px;width:399.4px;height:565.0px">
<svg width="399.4" height="565.0" viewBox="0 0 399.4 565.0"><g transform="translate(-639.0 -33.0)"><path d="M667.55 100.50H718.75M667.55 113.12H718.75M667.55 125.75H718.75M667.55 138.38H718.75M667.55 151.00H718.75M667.90 100.50V151.00M680.52 100.50V151.00M693.15 100.50V151.00M705.77 100.50V151.00M718.40 100.50V151.00" stroke="#444" stroke-width="0.7" fill="none"/><path d="M740.25 100.50H795.05M740.25 113.97H795.05M740.25 127.45H795.05M740.25 140.93H795.05M740.25 154.40H795.05M740.25 167.88H795.05M740.25 181.35H795.05M740.25 194.83H795.05M740.25 208.30H795.05M740.60 100.50V208.30M754.12 100.50V208.30M767.65 100.50V208.30M781.18 100.50V208.30M794.70 100.50V208.30" stroke="#444" stroke-width="0.7" fill="none"/><path d="M816.85 100.50H1010.35M816.85 112.52H1010.35M816.85 124.54H1010.35M816.85 136.56H1010.35M816.85 148.57H1010.35M816.85 160.59H1010.35M816.85 172.61H1010.35M816.85 184.63H1010.35M816.85 196.65H1010.35M816.85 208.67H1010.35M816.85 220.69H1010.35M816.85 232.71H1010.35M816.85 244.73H1010.35M816.85 256.74H1010.35M816.85 268.76H1010.35M816.85 280.78H1010.35M816.85 292.80H1010.35M817.20 100.50V292.80M829.25 100.50V292.80M841.30 100.50V292.80M853.35 100.50V292.80M865.40 100.50V292.80M877.45 100.50V292.80M889.50 100.50V292.80M901.55 100.50V292.80M913.60 100.50V292.80M925.65 100.50V292.80M937.70 100.50V292.80M949.75 100.50V292.80M961.80 100.50V292.80M973.85 100.50V292.80M985.90 100.50V292.80M997.95 100.50V292.80M1010.00 100.50V292.80" stroke="#444" stroke-width="0.7" fill="none"/><rect x="661.3" y="273.5" width="144.5" height="19.4" rx="1" stroke="#0a0a0a" fill="#fff" stroke-width="1.3"/><rect x="678.1" y="257.4" width="110.9" height="15.4" rx="1.5" stroke="#0a0a0a" fill="#fff" stroke-width="1.3"/><rect x="687.6" y="240.3" width="92" height="16.7" rx="3.2" stroke="#0a0a0a" fill="#fff" stroke-width="1.3"/><path d="M676.4 271.5H790.4" stroke="#0a0a0a" stroke-width="1.8" stroke-dasharray="1.7 0.9"/><path d="M663.60 279.5C664.80 291.5 674.07 291.5 675.27 279.5M675.27 279.5C676.47 291.5 685.73 291.5 686.93 279.5M686.93 279.5C688.13 291.5 697.40 291.5 698.60 279.5M698.60 279.5C699.80 291.5 709.07 291.5 710.27 279.5M710.27 279.5C711.47 291.5 720.73 291.5 721.93 279.5M721.93 279.5C723.13 291.5 732.40 291.5 733.60 279.5M733.60 279.5C734.80 291.5 744.07 291.5 745.27 279.5M745.27 279.5C746.47 291.5 755.73 291.5 756.93 279.5M756.93 279.5C758.13 291.5 767.40 291.5 768.60 279.5M768.60 279.5C769.80 291.5 779.07 291.5 780.27 279.5M780.27 279.5C781.47 291.5 790.73 291.5 791.93 279.5M791.93 279.5C793.13 291.5 802.40 291.5 803.60 279.5" stroke="#0a0a0a" stroke-width="1.45" fill="none"/><circle cx="663.60" cy="279.3" r="2.55" fill="#7c2434" stroke="#0a0a0a" stroke-width="1.25"/><circle cx="675.27" cy="279.3" r="2.55" fill="#7c2434" stroke="#0a0a0a" stroke-width="1.25"/><circle cx="686.93" cy="279.3" r="2.55" fill="#7c2434" stroke="#0a0a0a" stroke-width="1.25"/><circle cx="698.60" cy="279.3" r="2.55" fill="#7c2434" stroke="#0a0a0a" stroke-width="1.25"/><circle cx="710.27" cy="279.3" r="2.55" fill="#7c2434" stroke="#0a0a0a" stroke-width="1.25"/><circle cx="721.93" cy="279.3" r="2.55" fill="#7c2434" stroke="#0a0a0a" stroke-width="1.25"/><circle cx="733.60" cy="279.3" r="2.55" fill="#7c2434" stroke="#0a0a0a" stroke-width="1.25"/><circle cx="745.27" cy="279.3" r="2.55" fill="#7c2434" stroke="#0a0a0a" stroke-width="1.25"/><circle cx="756.93" cy="279.3" r="2.55" fill="#7c2434" stroke="#0a0a0a" stroke-width="1.25"/><circle cx="768.60" cy="279.3" r="2.55" fill="#7c2434" stroke="#0a0a0a" stroke-width="1.25"/><circle cx="780.27" cy="279.3" r="2.55" fill="#7c2434" stroke="#0a0a0a" stroke-width="1.25"/><circle cx="791.93" cy="279.3" r="2.55" fill="#7c2434" stroke="#0a0a0a" stroke-width="1.25"/><circle cx="803.60" cy="279.3" r="2.55" fill="#7c2434" stroke="#0a0a0a" stroke-width="1.25"/><path d="M681.30 260.0C681.60 266.6 686.76 266.6 687.06 260.0M688.86 260.0C689.16 266.6 694.31 266.6 694.61 260.0M696.41 260.0C696.71 266.6 701.87 266.6 702.17 260.0M703.97 260.0C704.27 266.6 709.43 266.6 709.73 260.0M711.53 260.0C711.83 266.6 716.99 266.6 717.29 260.0M719.09 260.0C719.39 266.6 724.54 266.6 724.84 260.0M726.64 260.0C726.94 266.6 732.10 266.6 732.40 260.0M734.20 260.0C734.50 266.6 739.66 266.6 739.96 260.0M741.76 260.0C742.06 266.6 747.21 266.6 747.51 260.0M749.31 260.0C749.61 266.6 754.77 266.6 755.07 260.0M756.87 260.0C757.17 266.6 762.33 266.6 762.63 260.0M764.43 260.0C764.73 266.6 769.89 266.6 770.19 260.0M771.99 260.0C772.29 266.6 777.44 266.6 777.74 260.0M779.54 260.0C779.84 266.6 785.00 266.6 785.30 260.0" stroke="#0a0a0a" stroke-width="2.3" fill="none" stroke-linecap="round"/><circle cx="677.8" cy="261.2" r="1.9" fill="#0a0a0a"/><circle cx="789.0" cy="261.2" r="1.9" fill="#0a0a0a"/><path d="M693.80 248.0C694.60 254.2 700.56 254.2 701.36 248.0M701.36 248.0C702.16 254.2 708.13 254.2 708.93 248.0M708.93 248.0C709.73 254.2 715.69 254.2 716.49 248.0M716.49 248.0C717.29 254.2 723.25 254.2 724.05 248.0M724.05 248.0C724.85 254.2 730.82 254.2 731.62 248.0M731.62 248.0C732.42 254.2 738.38 254.2 739.18 248.0M739.18 248.0C739.98 254.2 745.95 254.2 746.75 248.0M746.75 248.0C747.55 254.2 753.51 254.2 754.31 248.0M754.31 248.0C755.11 254.2 761.07 254.2 761.87 248.0M761.87 248.0C762.67 254.2 768.64 254.2 769.44 248.0M769.44 248.0C770.24 254.2 776.20 254.2 777.00 248.0M693.80 252.0V243.0M691.80 246.0L693.80 243.0L695.80 246.0M701.36 252.0V243.0M699.36 246.0L701.36 243.0L703.36 246.0M708.93 252.0V243.0M706.93 246.0L708.93 243.0L710.93 246.0M716.49 252.0V243.0M714.49 246.0L716.49 243.0L718.49 246.0M724.05 252.0V243.0M722.05 246.0L724.05 243.0L726.05 246.0M731.62 252.0V243.0M729.62 246.0L731.62 243.0L733.62 246.0M739.18 252.0V243.0M737.18 246.0L739.18 243.0L741.18 246.0M746.75 252.0V243.0M744.75 246.0L746.75 243.0L748.75 246.0M754.31 252.0V243.0M752.31 246.0L754.31 243.0L756.31 246.0M761.87 252.0V243.0M759.87 246.0L761.87 243.0L763.87 246.0M769.44 252.0V243.0M767.44 246.0L769.44 243.0L771.44 246.0M777.00 252.0V243.0M775.00 246.0L777.00 243.0L779.00 246.0" stroke="#0a0a0a" stroke-width="1.3" fill="none"/><path d="M657.80 395.60H776.10M657.80 413.50H776.10M657.80 439.50H776.10M657.80 456.90H776.10M657.80 474.20H776.10M657.80 491.50H776.10M657.80 508.90H776.10M658.40 395.60V508.90M775.50 395.60V508.90M691.40 413.50V508.90M729.80 413.50V508.90" stroke="#111" stroke-width="1.15" fill="none"/><path d="M780.00 395.60H897.50M780.00 413.50H897.50M780.00 439.50H897.50M780.00 456.90H897.50M780.00 474.20H897.50M780.00 491.50H897.50M780.00 508.90H897.50M780.60 395.60V508.90M896.90 395.60V508.90M813.60 413.50V508.90M851.70 413.50V508.90" stroke="#111" stroke-width="1.15" fill="none"/><path d="M901.90 395.60H1019.80M901.90 413.50H1019.80M901.90 439.50H1019.80M901.90 456.90H1019.80M901.90 474.20H1019.80M901.90 491.50H1019.80M901.90 508.90H1019.80M902.50 395.60V508.90M1019.20 395.60V508.90M935.30 413.50V508.90M974.20 413.50V508.90" stroke="#111" stroke-width="1.15" fill="none"/><path d="M658.4 556.1H1019.2" stroke="#0a2fa0" stroke-width="1.8"/><ellipse cx="662.91" cy="568.80" rx="4.71" ry="6.00" fill="#0a2a9c"/><ellipse cx="667.62" cy="565.40" rx="5.34" ry="5.40" fill="#0a2a9c"/><ellipse cx="674.53" cy="564.20" rx="6.28" ry="5.40" fill="#0a2a9c"/><ellipse cx="681.44" cy="565.40" rx="5.02" ry="5.00" fill="#0a2a9c"/><ellipse cx="685.52" cy="567.20" rx="4.08" ry="4.80" fill="#0a2a9c"/><ellipse cx="683.32" cy="571.20" rx="4.71" ry="5.00" fill="#0a2a9c"/><ellipse cx="677.04" cy="573.20" rx="5.65" ry="5.00" fill="#0a2a9c"/><ellipse cx="669.50" cy="574.00" rx="6.28" ry="4.80" fill="#0a2a9c"/><ellipse cx="664.48" cy="572.00" rx="4.40" ry="4.80" fill="#0a2a9c"/><ellipse cx="673.90" cy="568.80" rx="11.93" ry="6.80" fill="#0a2a9c"/><ellipse cx="674.53" cy="562.20" rx="4.08" ry="2.00" fill="#1b86d0"/><ellipse cx="669.50" cy="576.20" rx="4.71" ry="1.80" fill="#1b86d0"/><ellipse cx="685.20" cy="564.80" rx="1.88" ry="1.60" fill="#1b86d0"/><text x="673.0" y="571.4" font-family="Liberation Sans, sans-serif" font-weight="700" font-size="7.4" fill="#fff" text-anchor="middle" textLength="21.6" lengthAdjust="spacingAndGlyphs">twinkl</text><path d="M855.80 360.3H863.40" stroke="#333" stroke-width="0.5"/><text x="859.6" y="359.2" font-family="Liberation Sans, sans-serif" font-weight="700" font-size="5.4" fill="#111" text-anchor="middle">1</text><text x="859.6" y="366.2" font-family="Liberation Sans, sans-serif" font-weight="700" font-size="5.4" fill="#111" text-anchor="middle">16</text><path d="M897.30 360.3H901.50" stroke="#333" stroke-width="0.5"/><text x="899.4" y="359.2" font-family="Liberation Sans, sans-serif" font-weight="700" font-size="5.4" fill="#111" text-anchor="middle">1</text><text x="899.4" y="366.2" font-family="Liberation Sans, sans-serif" font-weight="700" font-size="5.4" fill="#111" text-anchor="middle">8</text><path d="M938.70 360.3H946.30" stroke="#333" stroke-width="0.5"/><text x="942.5" y="359.2" font-family="Liberation Sans, sans-serif" font-weight="700" font-size="5.4" fill="#111" text-anchor="middle">5</text><text x="942.5" y="366.2" font-family="Liberation Sans, sans-serif" font-weight="700" font-size="5.4" fill="#111" text-anchor="middle">16</text><path d="M664.50 378.0H668.70" stroke="#333" stroke-width="0.5"/><text x="666.6" y="376.9" font-family="Liberation Sans, sans-serif" font-weight="700" font-size="5.4" fill="#111" text-anchor="middle">1</text><text x="666.6" y="383.9" font-family="Liberation Sans, sans-serif" font-weight="700" font-size="5.4" fill="#111" text-anchor="middle">2</text></g></svg>
<span class="t b" style="left:19.40px;top:25px;font-size:9.2px;letter-spacing:-0.174px;">Equivalent Tiers</span>
<span class="t" style="left:23.80px;top:37px;font-size:8.3px;letter-spacing:-0.522px;">2.</span>
<span class="t" style="left:36.50px;top:37px;font-size:8.3px;letter-spacing:0.139px;">The next designer has three tiers. Each tier has been divided into equal sections, but each</span>
<span class="t" style="left:36.50px;top:49px;font-size:8.3px;letter-spacing:0.076px;">level has a different number of sections. Each tier has the same fraction in each colour.</span>
<span class="t b" style="left:38.30px;top:124px;font-size:7.6px;letter-spacing:0.305px;">Top Tier</span>
<span class="t b" style="left:107.00px;top:182px;font-size:7.6px;letter-spacing:0.375px;">Middle Tier</span>
<span class="t b" style="left:251.60px;top:266px;font-size:7.6px;letter-spacing:0.382px;">Bottom Tier</span>
<span class="t" style="left:19.40px;top:297px;font-size:8.6px;letter-spacing:0.013px;">Choose four colours that you would like to use on the cake. A different faction must be used for</span>
<span class="t" style="left:19.40px;top:310px;font-size:8.6px;letter-spacing:0.059px;">each of the 4 colours, but each tier must be shaded with the same fractions.</span>
<span class="t" style="left:19.40px;top:327px;font-size:8.6px;letter-spacing:-0.059px;">For example, you may choose to decorate the cake</span>
<span class="t" style="left:228.30px;top:327px;font-size:8.6px;letter-spacing:0.269px;">white,</span>
<span class="t" style="left:268.60px;top:327px;font-size:8.6px;letter-spacing:0.117px;">yellow,</span>
<span class="t" style="left:311.90px;top:327px;font-size:8.6px;letter-spacing:-0.069px;">blue and</span>
<span class="t" style="left:35.70px;top:345px;font-size:8.6px;letter-spacing:-0.335px;">green.</span>
<span class="t b" style="left:185.70px;top:535px;font-size:4.6px;letter-spacing:0.243px;">Page 2 of 3</span>
<span class="t b" style="left:318.30px;top:535px;font-size:4.6px;letter-spacing:0.099px;color:#1565c0;-webkit-text-stroke-color:#1565c0;">visit twinkl.com</span>
<span class="t b" style="left:63.90px;top:369px;font-size:7.3px;">Top Tier</span>
<span class="t b" style="left:26.23px;top:392px;font-size:6.0px;">Colour</span>
<span class="t b" style="left:59.18px;top:392px;font-size:6.3px;">Fraction</span>
<span class="t b" style="left:97.67px;top:388px;font-size:6.4px;">Number of</span>
<span class="t b" style="left:100.33px;top:396px;font-size:6.4px;">Sections</span>
<span class="t b" style="left:180.55px;top:369px;font-size:7.3px;">Middle Tier</span>
<span class="t b" style="left:148.43px;top:392px;font-size:6.0px;">Colour</span>
<span class="t b" style="left:181.23px;top:392px;font-size:6.3px;">Fraction</span>
<span class="t b" style="left:219.32px;top:388px;font-size:6.4px;">Number of</span>
<span class="t b" style="left:221.98px;top:396px;font-size:6.4px;">Sections</span>
<span class="t b" style="left:301.44px;top:369px;font-size:7.3px;">Bottom Tier</span>
<span class="t b" style="left:270.23px;top:392px;font-size:6.0px;">Colour</span>
<span class="t b" style="left:303.33px;top:392px;font-size:6.3px;">Fraction</span>
<span class="t b" style="left:341.72px;top:388px;font-size:6.4px;">Number of</span>
<span class="t b" style="left:344.38px;top:396px;font-size:6.4px;">Sections</span>
</div>
<div id="eco"><svg width="294" height="160" viewBox="966 470 294 160"><rect x="966.5" y="531.5" width="300" height="64.5" rx="2.5" fill="#7daa41" stroke="#6cb32a" stroke-width="1.4"/><path d="M1184.4 481.5C1195 505 1222.6 538 1222.6 566C1222.6 590 1204 604.8 1184.4 604.8C1164.8 604.8 1146.3 590 1146.3 566C1146.3 538 1174 505 1184.4 481.5Z" fill="#90c148"/><path d="M1184.4 481.5C1195 505 1222.6 538 1222.6 566C1222.6 590 1204 604.8 1184.4 604.8C1164.8 604.8 1146.3 590 1146.3 566C1146.3 538 1174 505 1184.4 481.5Z" fill="none" stroke="#7fc02e" stroke-width="1" /><path d="M1184.6 604V616" stroke="#8ccb2e" stroke-width="4.6"/><path d="M1184.6 533V604.5" stroke="#b9d98a" stroke-width="4.6"/></svg><span class="t" style="left:18px;top:74px;font-size:33.5px;letter-spacing:-0.5px">ink saving</span><span class="t" style="left:193.2px;top:75px;font-size:32px;font-weight:700;letter-spacing:-2.2px">Eco</span></div>
</div>
</body></html>
